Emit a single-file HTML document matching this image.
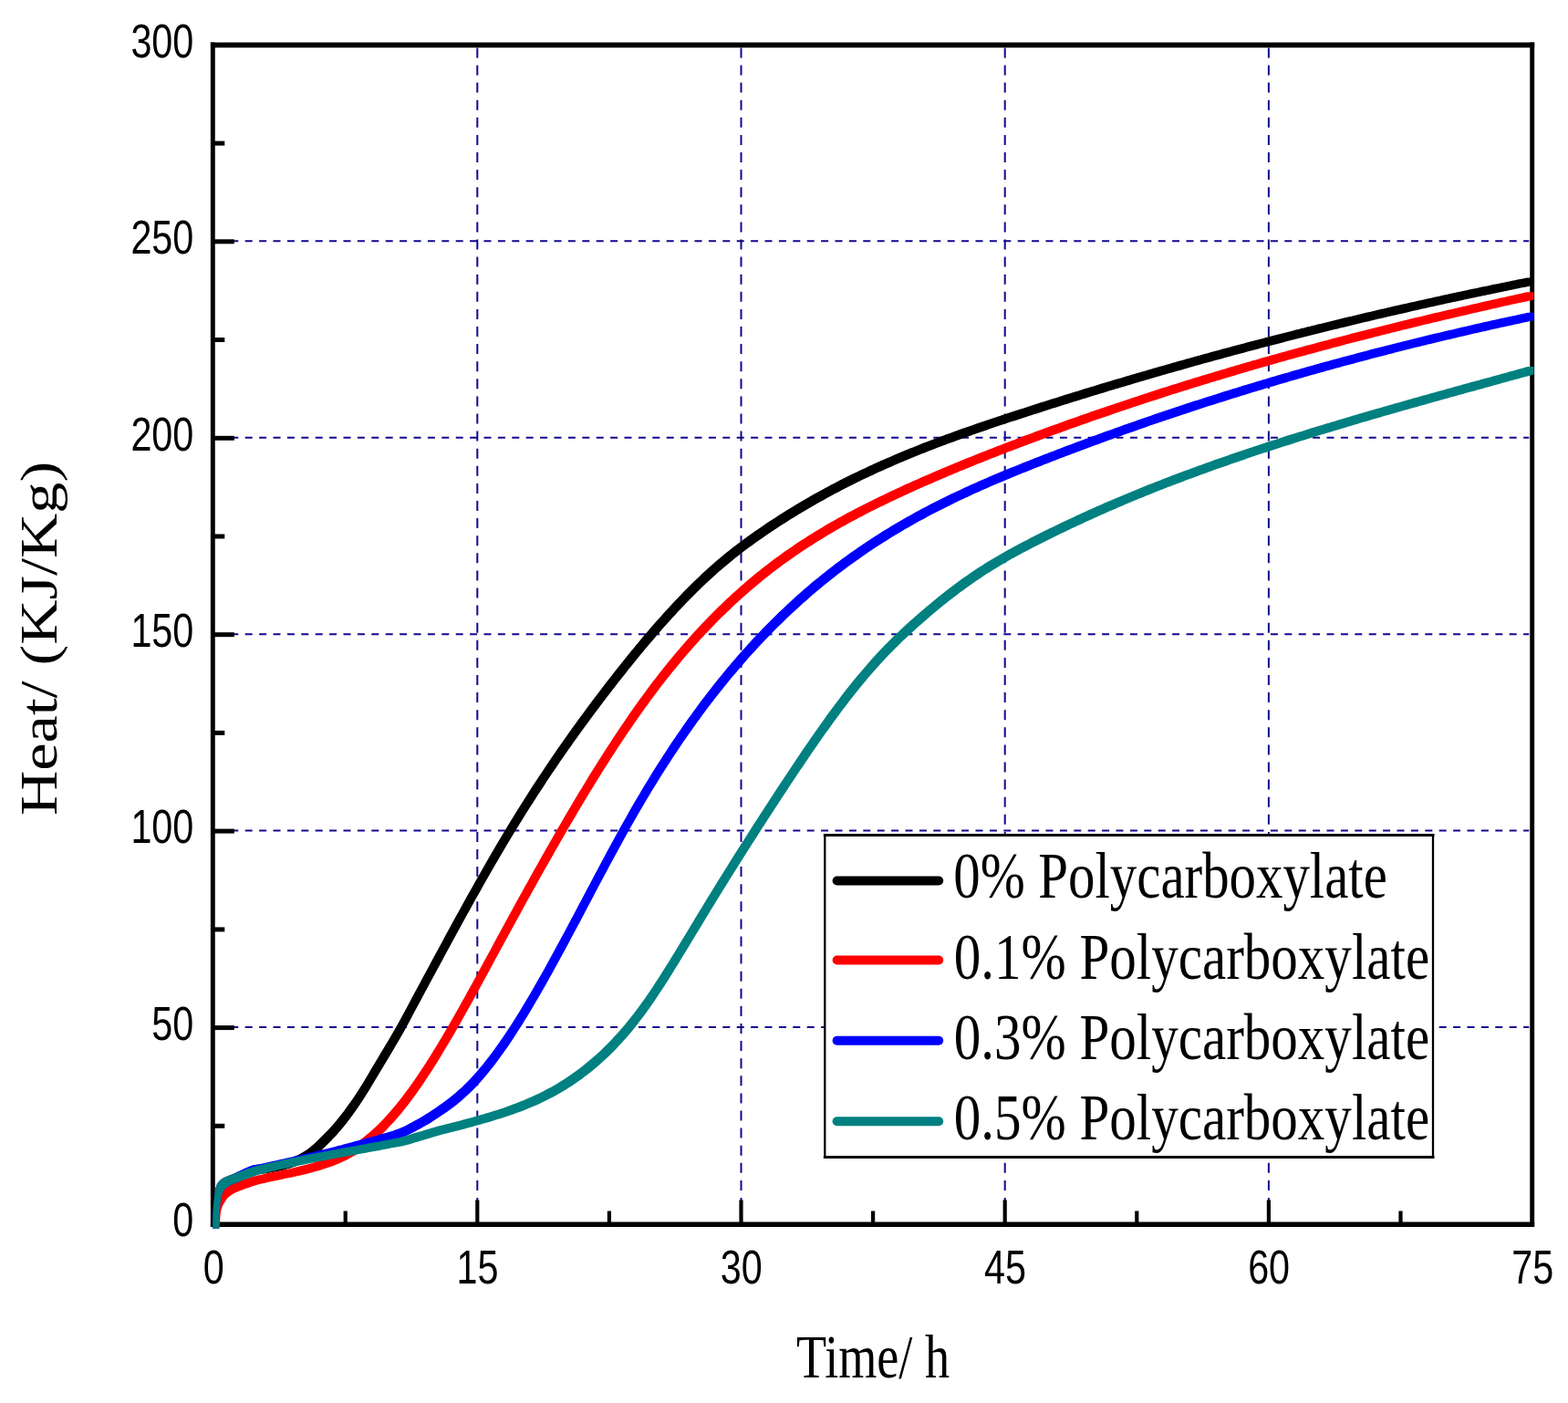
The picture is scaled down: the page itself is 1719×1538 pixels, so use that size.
<!DOCTYPE html>
<html lang="en"><head><meta charset="utf-8"><title>Heat vs Time</title>
<style>html,body{margin:0;padding:0;background:#fff}body{width:1719px;height:1538px;overflow:hidden}svg{display:block}.s{font-family:"Liberation Serif","DejaVu Serif",serif;fill:#000}.a{font-family:"Liberation Sans","DejaVu Sans",sans-serif;fill:#000}</style></head><body>
<svg xmlns="http://www.w3.org/2000/svg" width="1719" height="1538" viewBox="0 0 1719 1538">
<rect x="0" y="0" width="1719" height="1538" fill="#fff"/>
<g stroke="#12088c" stroke-width="2" fill="none">
<line x1="253.3" y1="1126.1" x2="1676.3" y2="1126.1" stroke-dasharray="8 7.4" stroke-dashoffset="0.0"/>
<line x1="253.3" y1="910.6" x2="1676.3" y2="910.6" stroke-dasharray="8 7.4" stroke-dashoffset="0.0"/>
<line x1="253.3" y1="695.2" x2="1676.3" y2="695.2" stroke-dasharray="8 7.4" stroke-dashoffset="0.0"/>
<line x1="253.3" y1="479.8" x2="1676.3" y2="479.8" stroke-dasharray="8 7.4" stroke-dashoffset="0.0"/>
<line x1="253.3" y1="264.3" x2="1676.3" y2="264.3" stroke-dasharray="8 7.4" stroke-dashoffset="0.0"/>
<line x1="523.3" y1="52.4" x2="523.3" y2="1339.0" stroke-dasharray="11 8.1" stroke-dashoffset="0.0"/>
<line x1="812.5" y1="52.4" x2="812.5" y2="1339.0" stroke-dasharray="11 8.1" stroke-dashoffset="0.0"/>
<line x1="1101.7" y1="52.4" x2="1101.7" y2="1339.0" stroke-dasharray="11 8.1" stroke-dashoffset="0.0"/>
<line x1="1390.9" y1="52.4" x2="1390.9" y2="1339.0" stroke-dasharray="11 8.1" stroke-dashoffset="0.0"/>
</g>
<g stroke="#000" fill="none" stroke-linecap="butt">
<line x1="233.3" y1="46.6" x2="233.3" y2="1345.1" stroke-width="4.9"/>
<line x1="1679.7" y1="46.6" x2="1679.7" y2="1345.1" stroke-width="4.9"/>
<line x1="230.9" y1="49.4" x2="1682.2" y2="49.4" stroke-width="5.6"/>
<line x1="230.9" y1="1342.3" x2="1682.2" y2="1342.3" stroke-width="5.6"/>
<line x1="233.3" y1="1126.6" x2="256.8" y2="1126.6" stroke-width="5"/>
<line x1="233.3" y1="911.1" x2="256.8" y2="911.1" stroke-width="5"/>
<line x1="233.3" y1="695.7" x2="256.8" y2="695.7" stroke-width="5"/>
<line x1="233.3" y1="480.3" x2="256.8" y2="480.3" stroke-width="5"/>
<line x1="233.3" y1="264.8" x2="256.8" y2="264.8" stroke-width="5"/>
<line x1="233.3" y1="1234.3" x2="246.3" y2="1234.3" stroke-width="5"/>
<line x1="233.3" y1="1018.9" x2="246.3" y2="1018.9" stroke-width="5"/>
<line x1="233.3" y1="803.4" x2="246.3" y2="803.4" stroke-width="5"/>
<line x1="233.3" y1="588.0" x2="246.3" y2="588.0" stroke-width="5"/>
<line x1="233.3" y1="372.5" x2="246.3" y2="372.5" stroke-width="5"/>
<line x1="233.3" y1="157.1" x2="246.3" y2="157.1" stroke-width="5"/>
<line x1="523.3" y1="1342.0" x2="523.3" y2="1315.5" stroke-width="4.2"/>
<line x1="812.5" y1="1342.0" x2="812.5" y2="1315.5" stroke-width="4.2"/>
<line x1="1101.7" y1="1342.0" x2="1101.7" y2="1315.5" stroke-width="4.2"/>
<line x1="1390.9" y1="1342.0" x2="1390.9" y2="1315.5" stroke-width="4.2"/>
<line x1="378.7" y1="1342.0" x2="378.7" y2="1327.5" stroke-width="4.2"/>
<line x1="667.9" y1="1342.0" x2="667.9" y2="1327.5" stroke-width="4.2"/>
<line x1="957.1" y1="1342.0" x2="957.1" y2="1327.5" stroke-width="4.2"/>
<line x1="1246.3" y1="1342.0" x2="1246.3" y2="1327.5" stroke-width="4.2"/>
<line x1="1535.5" y1="1342.0" x2="1535.5" y2="1327.5" stroke-width="4.2"/>
</g>
<g stroke="none">
<path fill="#000000" d="M233.3,1338.4 233.3,1337.4 233.3,1336.4 233.3,1335.4 233.3,1334.4 233.4,1333.4 233.4,1332.4 233.4,1331.5 233.5,1330.5 233.5,1329.5 233.5,1328.6 233.6,1327.6 233.6,1326.7 233.7,1325.7 233.8,1324.8 233.8,1323.8 233.9,1322.9 234.0,1321.9 234.0,1321.0 234.1,1320.0 234.2,1319.1 234.3,1318.1 234.4,1317.2 234.5,1316.2 234.6,1315.3 234.6,1314.3 234.7,1313.3 234.8,1312.4 235.0,1311.4 235.1,1310.4 235.2,1309.5 235.3,1308.5 235.4,1307.6 235.6,1306.6 235.7,1305.7 235.9,1304.8 236.1,1303.9 236.3,1303.1 236.5,1302.2 236.7,1301.4 237.0,1300.7 237.3,1299.9 237.6,1299.2 237.9,1298.5 238.2,1297.8 238.6,1297.2 239.0,1296.5 239.5,1295.9 240.0,1295.4 240.5,1294.8 241.0,1294.3 241.6,1293.8 242.2,1293.3 242.8,1292.8 243.4,1292.4 244.1,1292.0 244.8,1291.6 245.4,1291.2 246.1,1290.9 246.8,1290.5 247.4,1290.2 248.1,1289.9 248.8,1289.7 249.5,1289.4 250.2,1289.1 251.0,1288.8 251.8,1288.5 252.7,1288.2 253.6,1287.8 254.5,1287.5 255.6,1287.0 256.6,1286.6 257.8,1286.1 258.9,1285.6 260.1,1285.1 261.4,1284.6 262.6,1284.0 263.9,1283.5 265.2,1283.0 266.5,1282.4 267.7,1281.9 269.0,1281.4 270.2,1281.0 271.4,1280.5 272.5,1280.1 273.6,1279.8 274.7,1279.5 275.7,1279.2 276.6,1279.0 277.5,1278.8 278.3,1278.7 279.1,1278.5 279.9,1278.5 280.7,1278.4 281.4,1278.3 282.2,1278.2 282.9,1278.2 283.7,1278.1 284.5,1278.0 285.3,1277.9 286.1,1277.8 286.9,1277.7 287.7,1277.5 288.5,1277.4 289.4,1277.2 290.2,1277.1 291.0,1276.9 291.9,1276.8 292.7,1276.6 293.5,1276.4 294.4,1276.3 295.2,1276.1 296.0,1276.0 296.8,1275.8 297.6,1275.6 298.5,1275.5 299.3,1275.3 300.1,1275.1 300.9,1274.9 301.7,1274.8 304.7,1274.0 307.7,1273.2 310.7,1272.3 313.7,1271.3 316.7,1270.3 319.7,1269.1 322.7,1267.8 325.7,1266.4 328.7,1264.9 331.7,1263.3 334.7,1261.5 337.7,1259.4 340.7,1257.0 343.7,1254.5 346.7,1251.7 349.7,1248.8 352.7,1245.8 355.7,1242.8 358.7,1239.7 361.7,1236.5 364.7,1233.2 367.7,1229.7 370.7,1226.1 373.7,1222.3 376.7,1218.4 379.7,1214.3 382.7,1210.1 385.7,1205.9 388.7,1201.4 391.7,1196.9 394.7,1192.2 397.7,1187.4 400.7,1182.4 403.7,1177.4 406.7,1172.3 409.7,1167.3 412.7,1162.3 415.7,1157.3 418.7,1152.3 421.7,1147.3 424.7,1142.3 427.7,1137.2 430.7,1132.0 433.7,1126.8 436.7,1121.5 439.7,1116.0 442.7,1110.5 445.7,1104.9 448.7,1099.2 451.7,1093.6 454.7,1088.0 457.7,1082.4 460.7,1076.9 463.7,1071.3 466.7,1065.7 469.7,1060.2 472.7,1054.6 475.7,1049.0 478.7,1043.5 481.7,1037.9 484.7,1032.4 487.7,1026.8 490.7,1021.3 493.7,1015.8 496.7,1010.3 499.7,1004.8 502.7,999.4 505.7,993.9 508.7,988.5 511.7,983.1 514.7,977.7 517.7,972.4 520.7,967.0 523.7,961.7 526.7,956.4 529.7,951.2 532.7,945.9 535.7,940.7 538.7,935.6 541.7,930.4 544.7,925.3 547.7,920.2 550.7,915.2 553.7,910.2 556.7,905.2 559.7,900.3 562.7,895.4 565.7,890.5 568.7,885.7 571.7,880.9 574.7,876.2 577.7,871.5 580.7,866.8 583.7,862.1 586.7,857.5 589.7,853.0 592.7,848.4 595.7,843.9 598.7,839.4 601.7,835.0 604.7,830.6 607.7,826.2 610.7,821.8 613.7,817.5 616.7,813.2 619.7,809.0 622.7,804.7 625.7,800.5 628.7,796.3 631.7,792.2 634.7,788.1 637.7,784.0 640.7,779.9 643.7,775.8 646.7,771.8 649.7,767.8 652.7,763.8 655.7,759.9 658.7,755.9 661.7,752.0 664.7,748.1 667.7,744.3 670.7,740.4 673.7,736.6 676.7,732.8 679.7,729.0 682.7,725.2 685.7,721.5 688.7,717.8 691.7,714.1 694.7,710.4 697.7,706.8 700.7,703.2 703.7,699.6 706.7,696.1 709.7,692.5 712.7,689.0 715.7,685.6 718.7,682.1 721.7,678.7 724.7,675.4 727.7,672.0 730.7,668.7 733.7,665.5 736.7,662.2 739.7,659.0 742.7,655.9 745.7,652.7 748.7,649.6 751.7,646.6 754.7,643.6 757.7,640.6 760.7,637.6 763.7,634.7 766.7,631.9 769.7,629.1 772.7,626.3 775.7,623.5 778.7,620.8 781.7,618.2 784.7,615.6 787.7,613.0 790.7,610.5 793.7,608.0 796.7,605.6 799.7,603.2 802.7,600.8 805.7,598.5 808.7,596.2 811.7,593.9 814.7,591.7 817.7,589.5 820.7,587.3 823.7,585.2 826.7,583.1 829.7,581.0 832.7,578.9 835.7,576.9 838.7,574.8 841.7,572.8 844.7,570.8 847.7,568.9 850.7,566.9 853.7,565.0 856.7,563.1 859.7,561.2 862.7,559.3 865.7,557.5 868.7,555.7 871.7,553.8 874.7,552.0 877.7,550.3 880.7,548.5 883.7,546.8 886.7,545.0 889.7,543.3 892.7,541.6 895.7,540.0 898.7,538.3 901.7,536.7 904.7,535.0 907.7,533.4 910.7,531.8 913.7,530.3 916.7,528.7 919.7,527.1 922.7,525.6 925.7,524.1 928.7,522.6 931.7,521.1 934.7,519.6 937.7,518.2 940.7,516.7 943.7,515.3 946.7,513.9 949.7,512.5 952.7,511.1 955.7,509.7 958.7,508.3 961.7,507.0 964.7,505.6 967.7,504.3 970.7,503.0 973.7,501.7 976.7,500.4 979.7,499.1 982.7,497.8 985.7,496.5 988.7,495.3 991.7,494.0 994.7,492.8 997.7,491.6 1000.7,490.4 1003.7,489.2 1006.7,488.0 1009.7,486.8 1012.7,485.6 1015.7,484.5 1018.7,483.3 1021.7,482.2 1024.7,481.0 1027.7,479.9 1030.7,478.8 1033.7,477.7 1036.7,476.6 1039.7,475.5 1042.7,474.4 1045.7,473.3 1048.7,472.2 1051.7,471.1 1054.7,470.1 1057.7,469.0 1060.7,467.9 1063.7,466.9 1066.7,465.9 1069.7,464.8 1072.7,463.8 1075.7,462.8 1078.7,461.7 1081.7,460.7 1084.7,459.7 1087.7,458.7 1090.7,457.7 1093.7,456.7 1096.7,455.7 1099.7,454.7 1102.7,453.7 1105.7,452.8 1108.7,451.8 1111.7,450.8 1114.7,449.8 1117.7,448.8 1120.7,447.9 1123.7,446.9 1126.7,445.9 1129.7,445.0 1132.7,444.0 1135.7,443.0 1138.7,442.1 1141.7,441.1 1144.7,440.2 1147.7,439.2 1150.7,438.3 1153.7,437.3 1156.7,436.4 1159.7,435.4 1162.7,434.5 1165.7,433.6 1168.7,432.6 1171.7,431.7 1174.7,430.8 1177.7,429.8 1180.7,428.9 1183.7,428.0 1186.7,427.1 1189.7,426.1 1192.7,425.2 1195.7,424.3 1198.7,423.4 1201.7,422.5 1204.7,421.6 1207.7,420.6 1210.7,419.7 1213.7,418.8 1216.7,417.9 1219.7,417.0 1222.7,416.1 1225.7,415.3 1228.7,414.4 1231.7,413.5 1234.7,412.6 1237.7,411.7 1240.7,410.8 1243.7,409.9 1246.7,409.0 1249.7,408.2 1252.7,407.3 1255.7,406.4 1258.7,405.5 1261.7,404.7 1264.7,403.8 1267.7,402.9 1270.7,402.1 1273.7,401.2 1276.7,400.4 1279.7,399.5 1282.7,398.7 1285.7,397.8 1288.7,397.0 1291.7,396.1 1294.7,395.3 1297.7,394.4 1300.7,393.6 1303.7,392.7 1306.7,391.9 1309.7,391.1 1312.7,390.2 1315.7,389.4 1318.7,388.6 1321.7,387.8 1324.7,386.9 1327.7,386.1 1330.7,385.3 1333.7,384.5 1336.7,383.7 1339.7,382.8 1342.7,382.0 1345.7,381.2 1348.7,380.4 1351.7,379.6 1354.7,378.8 1357.7,378.0 1360.7,377.2 1363.7,376.4 1366.7,375.6 1369.7,374.8 1372.7,374.0 1375.7,373.2 1378.7,372.4 1381.7,371.7 1384.7,370.9 1387.7,370.1 1390.7,369.3 1393.7,368.5 1396.7,367.8 1399.7,367.0 1402.7,366.2 1405.7,365.4 1408.7,364.7 1411.7,363.9 1414.7,363.2 1417.7,362.4 1420.7,361.6 1423.7,360.9 1426.7,360.1 1429.7,359.4 1432.7,358.6 1435.7,357.9 1438.7,357.1 1441.7,356.4 1444.7,355.6 1447.7,354.9 1450.7,354.2 1453.7,353.4 1456.7,352.7 1459.7,352.0 1462.7,351.2 1465.7,350.5 1468.7,349.8 1471.7,349.0 1474.7,348.3 1477.7,347.6 1480.7,346.9 1483.7,346.2 1486.7,345.4 1489.7,344.7 1492.7,344.0 1495.7,343.3 1498.7,342.6 1501.7,341.9 1504.7,341.2 1507.7,340.5 1510.7,339.8 1513.7,339.1 1516.7,338.4 1519.7,337.7 1522.7,337.0 1525.7,336.3 1528.7,335.6 1531.7,335.0 1534.7,334.3 1537.7,333.6 1540.7,332.9 1543.7,332.2 1546.7,331.6 1549.7,330.9 1552.7,330.2 1555.7,329.5 1558.7,328.9 1561.7,328.2 1564.7,327.5 1567.7,326.9 1570.7,326.2 1573.7,325.5 1576.7,324.9 1579.7,324.2 1582.7,323.6 1585.7,322.9 1588.7,322.3 1591.7,321.6 1594.7,321.0 1597.7,320.3 1600.7,319.7 1603.7,319.1 1606.7,318.4 1609.7,317.8 1612.7,317.1 1615.7,316.5 1618.7,315.9 1621.7,315.3 1624.7,314.6 1627.7,314.0 1630.7,313.4 1633.7,312.8 1636.7,312.1 1639.7,311.5 1642.7,310.9 1645.7,310.3 1648.7,309.7 1651.7,309.1 1654.7,308.4 1657.7,307.8 1660.7,307.2 1663.7,306.6 1666.7,306.0 1669.7,305.4 1672.7,304.8 1674.9,304.4 L1681.5,304.4 1681.5,312.8 1679.3,313.2 1676.3,313.8 1673.3,314.4 1670.3,315.0 1667.3,315.6 1664.3,316.2 1661.3,316.8 1658.3,317.5 1655.3,318.1 1652.3,318.7 1649.3,319.3 1646.3,319.9 1643.3,320.5 1640.3,321.2 1637.3,321.8 1634.3,322.4 1631.3,323.0 1628.3,323.7 1625.3,324.3 1622.3,324.9 1619.3,325.5 1616.3,326.2 1613.3,326.8 1610.3,327.5 1607.3,328.1 1604.3,328.7 1601.3,329.4 1598.3,330.0 1595.3,330.7 1592.3,331.3 1589.3,332.0 1586.3,332.6 1583.3,333.3 1580.3,333.9 1577.3,334.6 1574.3,335.3 1571.3,335.9 1568.3,336.6 1565.3,337.3 1562.3,337.9 1559.3,338.6 1556.3,339.3 1553.3,340.0 1550.3,340.6 1547.3,341.3 1544.3,342.0 1541.3,342.7 1538.3,343.4 1535.3,344.0 1532.3,344.7 1529.3,345.4 1526.3,346.1 1523.3,346.8 1520.3,347.5 1517.3,348.2 1514.3,348.9 1511.3,349.6 1508.3,350.3 1505.3,351.0 1502.3,351.7 1499.3,352.4 1496.3,353.1 1493.3,353.8 1490.3,354.6 1487.3,355.3 1484.3,356.0 1481.3,356.7 1478.3,357.4 1475.3,358.2 1472.3,358.9 1469.3,359.6 1466.3,360.4 1463.3,361.1 1460.3,361.8 1457.3,362.6 1454.3,363.3 1451.3,364.0 1448.3,364.8 1445.3,365.5 1442.3,366.3 1439.3,367.0 1436.3,367.8 1433.3,368.5 1430.3,369.3 1427.3,370.0 1424.3,370.8 1421.3,371.6 1418.3,372.3 1415.3,373.1 1412.3,373.8 1409.3,374.6 1406.3,375.4 1403.3,376.2 1400.3,376.9 1397.3,377.7 1394.3,378.5 1391.3,379.3 1388.3,380.1 1385.3,380.8 1382.3,381.6 1379.3,382.4 1376.3,383.2 1373.3,384.0 1370.3,384.8 1367.3,385.6 1364.3,386.4 1361.3,387.2 1358.3,388.0 1355.3,388.8 1352.3,389.6 1349.3,390.4 1346.3,391.2 1343.3,392.1 1340.3,392.9 1337.3,393.7 1334.3,394.5 1331.3,395.3 1328.3,396.2 1325.3,397.0 1322.3,397.8 1319.3,398.6 1316.3,399.5 1313.3,400.3 1310.3,401.1 1307.3,402.0 1304.3,402.8 1301.3,403.7 1298.3,404.5 1295.3,405.4 1292.3,406.2 1289.3,407.1 1286.3,407.9 1283.3,408.8 1280.3,409.6 1277.3,410.5 1274.3,411.3 1271.3,412.2 1268.3,413.1 1265.3,413.9 1262.3,414.8 1259.3,415.7 1256.3,416.6 1253.3,417.4 1250.3,418.3 1247.3,419.2 1244.3,420.1 1241.3,421.0 1238.3,421.9 1235.3,422.8 1232.3,423.7 1229.3,424.5 1226.3,425.4 1223.3,426.3 1220.3,427.2 1217.3,428.1 1214.3,429.0 1211.3,430.0 1208.3,430.9 1205.3,431.8 1202.3,432.7 1199.3,433.6 1196.3,434.5 1193.3,435.5 1190.3,436.4 1187.3,437.3 1184.3,438.2 1181.3,439.2 1178.3,440.1 1175.3,441.0 1172.3,442.0 1169.3,442.9 1166.3,443.8 1163.3,444.8 1160.3,445.7 1157.3,446.7 1154.3,447.6 1151.3,448.6 1148.3,449.5 1145.3,450.5 1142.3,451.4 1139.3,452.4 1136.3,453.4 1133.3,454.3 1130.3,455.3 1127.3,456.3 1124.3,457.2 1121.3,458.2 1118.3,459.2 1115.3,460.2 1112.3,461.2 1109.3,462.1 1106.3,463.1 1103.3,464.1 1100.3,465.1 1097.3,466.1 1094.3,467.1 1091.3,468.1 1088.3,469.1 1085.3,470.1 1082.3,471.2 1079.3,472.2 1076.3,473.2 1073.3,474.3 1070.3,475.3 1067.3,476.3 1064.3,477.4 1061.3,478.5 1058.3,479.5 1055.3,480.6 1052.3,481.7 1049.3,482.8 1046.3,483.9 1043.3,485.0 1040.3,486.1 1037.3,487.2 1034.3,488.3 1031.3,489.4 1028.3,490.6 1025.3,491.7 1022.3,492.9 1019.3,494.0 1016.3,495.2 1013.3,496.4 1010.3,497.6 1007.3,498.8 1004.3,500.0 1001.3,501.2 998.3,502.4 995.3,503.7 992.3,504.9 989.3,506.2 986.3,507.5 983.3,508.8 980.3,510.1 977.3,511.4 974.3,512.7 971.3,514.0 968.3,515.4 965.3,516.7 962.3,518.1 959.3,519.5 956.3,520.9 953.3,522.3 950.3,523.7 947.3,525.1 944.3,526.6 941.3,528.0 938.3,529.5 935.3,531.0 932.3,532.5 929.3,534.0 926.3,535.5 923.3,537.1 920.3,538.7 917.3,540.2 914.3,541.8 911.3,543.4 908.3,545.1 905.3,546.7 902.3,548.4 899.3,550.0 896.3,551.7 893.3,553.4 890.3,555.2 887.3,556.9 884.3,558.7 881.3,560.4 878.3,562.2 875.3,564.1 872.3,565.9 869.3,567.7 866.3,569.6 863.3,571.5 860.3,573.4 857.3,575.3 854.3,577.3 851.3,579.2 848.3,581.2 845.3,583.2 842.3,585.3 839.3,587.3 836.3,589.4 833.3,591.5 830.3,593.6 827.3,595.7 824.3,597.9 821.3,600.1 818.3,602.3 815.3,604.6 812.3,606.9 809.3,609.2 806.3,611.6 803.3,614.0 800.3,616.4 797.3,618.9 794.3,621.4 791.3,624.0 788.3,626.6 785.3,629.2 782.3,631.9 779.3,634.7 776.3,637.5 773.3,640.3 770.3,643.1 767.3,646.0 764.3,649.0 761.3,652.0 758.3,655.0 755.3,658.0 752.3,661.1 749.3,664.3 746.3,667.4 743.3,670.6 740.3,673.9 737.3,677.1 734.3,680.4 731.3,683.8 728.3,687.1 725.3,690.5 722.3,694.0 719.3,697.4 716.3,700.9 713.3,704.5 710.3,708.0 707.3,711.6 704.3,715.2 701.3,718.8 698.3,722.5 695.3,726.2 692.3,729.9 689.3,733.6 686.3,737.4 683.3,741.2 680.3,745.0 677.3,748.8 674.3,752.7 671.3,756.5 668.3,760.4 665.3,764.3 662.3,768.3 659.3,772.2 656.3,776.2 653.3,780.2 650.3,784.2 647.3,788.3 644.3,792.4 641.3,796.5 638.3,800.6 635.3,804.7 632.3,808.9 629.3,813.1 626.3,817.4 623.3,821.6 620.3,825.9 617.3,830.2 614.3,834.6 611.3,839.0 608.3,843.4 605.3,847.8 602.3,852.3 599.3,856.8 596.3,861.4 593.3,865.9 590.3,870.5 587.3,875.2 584.3,879.9 581.3,884.6 578.3,889.3 575.3,894.1 572.3,898.9 569.3,903.8 566.3,908.7 563.3,913.6 560.3,918.6 557.3,923.6 554.3,928.6 551.3,933.7 548.3,938.8 545.3,944.0 542.3,949.1 539.3,954.3 536.3,959.6 533.3,964.8 530.3,970.1 527.3,975.4 524.3,980.8 521.3,986.1 518.3,991.5 515.3,996.9 512.3,1002.3 509.3,1007.8 506.3,1013.2 503.3,1018.7 500.3,1024.2 497.3,1029.7 494.3,1035.2 491.3,1040.8 488.3,1046.3 485.3,1051.9 482.3,1057.4 479.3,1063.0 476.3,1068.6 473.3,1074.1 470.3,1079.7 467.3,1085.3 464.3,1090.8 461.3,1096.4 458.3,1102.0 455.3,1107.6 452.3,1113.3 449.3,1118.9 446.3,1124.4 443.3,1129.9 440.3,1135.2 437.3,1140.4 434.3,1145.6 431.3,1150.7 428.3,1155.7 425.3,1160.7 422.3,1165.7 419.3,1170.7 416.3,1175.7 413.3,1180.7 410.3,1185.8 407.3,1190.8 404.3,1195.8 401.3,1200.6 398.3,1205.3 395.3,1209.8 392.3,1214.3 389.3,1218.5 386.3,1222.7 383.3,1226.8 380.3,1230.7 377.3,1234.5 374.3,1238.1 371.3,1241.6 368.3,1244.9 365.3,1248.1 362.3,1251.2 359.3,1254.2 356.3,1257.2 353.3,1260.1 350.3,1262.9 347.3,1265.4 344.3,1267.8 341.3,1269.9 338.3,1271.7 335.3,1273.3 332.3,1274.8 329.3,1276.2 326.3,1277.5 323.3,1278.7 320.3,1279.7 317.3,1280.7 314.3,1281.6 311.3,1282.4 308.3,1283.2 307.5,1283.3 306.7,1283.5 305.9,1283.7 305.1,1283.9 304.2,1284.0 303.4,1284.2 302.6,1284.4 301.8,1284.5 301.0,1284.7 300.1,1284.8 299.3,1285.0 298.5,1285.2 297.6,1285.3 296.8,1285.5 296.0,1285.6 295.1,1285.8 294.3,1285.9 293.5,1286.1 292.7,1286.2 291.9,1286.3 291.1,1286.4 290.3,1286.5 289.5,1286.6 288.8,1286.6 288.0,1286.7 287.3,1286.8 286.5,1286.9 285.7,1286.9 284.9,1287.1 284.1,1287.2 283.2,1287.4 282.3,1287.6 281.3,1287.9 280.2,1288.2 279.1,1288.5 278.0,1288.9 276.8,1289.4 275.6,1289.8 274.3,1290.3 273.1,1290.8 271.8,1291.4 270.5,1291.9 269.2,1292.4 268.0,1293.0 266.7,1293.5 265.5,1294.0 264.4,1294.5 263.2,1295.0 262.2,1295.4 261.1,1295.9 260.2,1296.2 259.3,1296.6 258.4,1296.9 257.6,1297.2 256.8,1297.5 256.1,1297.8 255.4,1298.1 254.7,1298.3 254.0,1298.6 253.4,1298.9 252.7,1299.3 252.0,1299.6 251.4,1300.0 250.7,1300.4 250.0,1300.8 249.4,1301.2 248.8,1301.7 248.2,1302.2 247.6,1302.7 247.1,1303.2 246.6,1303.8 246.1,1304.3 245.6,1304.9 245.2,1305.6 244.8,1306.2 244.5,1306.9 244.2,1307.6 243.9,1308.3 243.6,1309.1 243.3,1309.8 243.1,1310.6 242.9,1311.5 242.7,1312.3 242.5,1313.2 242.3,1314.1 242.2,1315.0 242.0,1316.0 241.9,1316.9 241.8,1317.9 241.7,1318.8 241.6,1319.8 241.4,1320.8 241.3,1321.7 241.2,1322.7 241.2,1323.7 241.1,1324.6 241.0,1325.6 240.9,1326.5 240.8,1327.5 240.7,1328.4 240.6,1329.4 240.6,1330.3 240.5,1331.3 240.4,1332.2 240.4,1333.2 240.3,1334.1 240.2,1335.1 240.2,1336.0 240.1,1337.0 240.1,1337.9 240.1,1338.9 240.0,1339.9 240.0,1340.8 240.0,1341.8 239.9,1342.8 239.9,1343.8 239.9,1344.8 239.9,1345.8 239.9,1346.8 L233.3,1346.8 Z"/>
<path fill="#ff0000" d="M233.9,1338.4 234.0,1337.8 234.1,1337.2 234.1,1336.5 234.2,1335.8 234.3,1335.1 234.3,1334.3 234.4,1333.5 234.4,1332.7 234.4,1331.9 234.5,1331.0 234.5,1330.1 234.6,1329.3 234.6,1328.4 234.7,1327.5 234.7,1326.6 234.8,1325.7 234.9,1324.9 234.9,1324.0 235.0,1323.2 235.1,1322.3 235.2,1321.5 235.3,1320.8 235.4,1320.0 235.6,1319.3 235.7,1318.6 235.9,1318.0 236.0,1317.3 236.2,1316.7 236.4,1316.1 236.6,1315.5 236.9,1314.9 237.1,1314.3 237.4,1313.8 237.6,1313.2 237.9,1312.7 238.2,1312.1 238.5,1311.6 238.8,1311.1 239.2,1310.5 239.5,1310.0 239.8,1309.4 240.1,1308.9 240.5,1308.3 240.8,1307.8 241.2,1307.2 241.6,1306.7 242.0,1306.2 242.4,1305.6 242.8,1305.1 243.3,1304.7 243.8,1304.2 244.3,1303.7 244.8,1303.3 245.3,1302.9 245.8,1302.5 246.4,1302.1 246.9,1301.7 247.4,1301.3 247.9,1301.0 248.5,1300.7 249.0,1300.3 249.6,1300.0 250.2,1299.7 250.8,1299.4 251.5,1299.1 252.2,1298.7 253.1,1298.4 253.9,1298.0 254.9,1297.6 256.0,1297.2 257.1,1296.7 258.3,1296.3 259.5,1295.8 260.7,1295.4 262.0,1294.9 263.3,1294.4 264.6,1293.9 265.9,1293.5 267.3,1293.0 268.5,1292.6 269.8,1292.2 271.0,1291.7 272.2,1291.4 273.4,1291.0 274.5,1290.7 275.5,1290.4 276.4,1290.1 277.3,1289.9 278.1,1289.6 278.9,1289.4 279.7,1289.3 280.5,1289.1 281.2,1288.9 281.9,1288.8 282.6,1288.6 283.3,1288.5 284.1,1288.3 284.8,1288.1 285.6,1288.0 286.4,1287.8 287.2,1287.6 288.0,1287.4 288.8,1287.2 289.6,1287.1 290.4,1286.9 291.3,1286.7 292.1,1286.5 292.9,1286.3 293.7,1286.1 294.5,1286.0 295.3,1285.8 296.1,1285.6 296.9,1285.5 297.7,1285.3 298.5,1285.1 299.3,1285.0 300.1,1284.8 300.9,1284.6 301.7,1284.5 304.7,1283.9 307.7,1283.2 310.7,1282.6 313.7,1282.0 316.7,1281.4 319.7,1280.7 322.7,1280.0 325.7,1279.3 328.7,1278.6 331.7,1277.8 334.7,1277.0 337.7,1276.2 340.7,1275.4 343.7,1274.5 346.7,1273.6 349.7,1272.7 352.7,1271.7 355.7,1270.7 358.7,1269.6 361.7,1268.4 364.7,1267.1 367.7,1265.8 370.7,1264.4 373.7,1263.0 376.7,1261.4 379.7,1259.7 382.7,1258.0 385.7,1256.1 388.7,1254.1 391.7,1252.0 394.7,1249.8 397.7,1247.5 400.7,1245.1 403.7,1242.6 406.7,1240.0 409.7,1237.2 412.7,1234.4 415.7,1231.5 418.7,1228.4 421.7,1225.2 424.7,1222.0 427.7,1218.6 430.7,1215.1 433.7,1211.5 436.7,1207.8 439.7,1204.0 442.7,1200.1 445.7,1196.1 448.7,1192.0 451.7,1187.8 454.7,1183.5 457.7,1179.1 460.7,1174.6 463.7,1170.1 466.7,1165.5 469.7,1160.8 472.7,1156.0 475.7,1151.1 478.7,1146.2 481.7,1141.2 484.7,1136.2 487.7,1131.1 490.7,1126.0 493.7,1120.8 496.7,1115.5 499.7,1110.3 502.7,1104.9 505.7,1099.6 508.7,1094.2 511.7,1088.8 514.7,1083.3 517.7,1077.9 520.7,1072.4 523.7,1066.9 526.7,1061.3 529.7,1055.8 532.7,1050.3 535.7,1044.7 538.7,1039.2 541.7,1033.6 544.7,1028.1 547.7,1022.6 550.7,1017.0 553.7,1011.5 556.7,1006.0 559.7,1000.5 562.7,995.1 565.7,989.6 568.7,984.1 571.7,978.7 574.7,973.3 577.7,967.9 580.7,962.5 583.7,957.1 586.7,951.7 589.7,946.4 592.7,941.1 595.7,935.8 598.7,930.5 601.7,925.2 604.7,919.9 607.7,914.7 610.7,909.5 613.7,904.4 616.7,899.2 619.7,894.1 622.7,889.0 625.7,883.9 628.7,878.8 631.7,873.8 634.7,868.8 637.7,863.9 640.7,858.9 643.7,854.0 646.7,849.1 649.7,844.3 652.7,839.5 655.7,834.7 658.7,830.0 661.7,825.3 664.7,820.6 667.7,816.0 670.7,811.4 673.7,806.8 676.7,802.3 679.7,797.8 682.7,793.4 685.7,789.0 688.7,784.6 691.7,780.3 694.7,776.0 697.7,771.8 700.7,767.6 703.7,763.5 706.7,759.4 709.7,755.3 712.7,751.3 715.7,747.3 718.7,743.4 721.7,739.6 724.7,735.7 727.7,732.0 730.7,728.2 733.7,724.5 736.7,720.9 739.7,717.3 742.7,713.7 745.7,710.2 748.7,706.7 751.7,703.3 754.7,699.9 757.7,696.5 760.7,693.2 763.7,690.0 766.7,686.7 769.7,683.6 772.7,680.4 775.7,677.3 778.7,674.2 781.7,671.2 784.7,668.2 787.7,665.3 790.7,662.4 793.7,659.5 796.7,656.6 799.7,653.9 802.7,651.1 805.7,648.4 808.7,645.7 811.7,643.0 814.7,640.4 817.7,637.8 820.7,635.3 823.7,632.8 826.7,630.3 829.7,627.8 832.7,625.4 835.7,623.1 838.7,620.7 841.7,618.4 844.7,616.1 847.7,613.8 850.7,611.6 853.7,609.4 856.7,607.3 859.7,605.1 862.7,603.0 865.7,600.9 868.7,598.9 871.7,596.8 874.7,594.8 877.7,592.8 880.7,590.9 883.7,589.0 886.7,587.1 889.7,585.2 892.7,583.3 895.7,581.5 898.7,579.7 901.7,577.9 904.7,576.1 907.7,574.3 910.7,572.6 913.7,570.9 916.7,569.2 919.7,567.5 922.7,565.9 925.7,564.2 928.7,562.6 931.7,561.0 934.7,559.4 937.7,557.8 940.7,556.3 943.7,554.7 946.7,553.2 949.7,551.7 952.7,550.2 955.7,548.7 958.7,547.2 961.7,545.8 964.7,544.3 967.7,542.9 970.7,541.4 973.7,540.0 976.7,538.6 979.7,537.2 982.7,535.8 985.7,534.4 988.7,533.0 991.7,531.6 994.7,530.3 997.7,528.9 1000.7,527.6 1003.7,526.2 1006.7,524.9 1009.7,523.6 1012.7,522.3 1015.7,521.0 1018.7,519.7 1021.7,518.4 1024.7,517.1 1027.7,515.8 1030.7,514.5 1033.7,513.2 1036.7,512.0 1039.7,510.7 1042.7,509.5 1045.7,508.2 1048.7,507.0 1051.7,505.8 1054.7,504.5 1057.7,503.3 1060.7,502.1 1063.7,500.9 1066.7,499.7 1069.7,498.5 1072.7,497.3 1075.7,496.1 1078.7,494.9 1081.7,493.7 1084.7,492.6 1087.7,491.4 1090.7,490.2 1093.7,489.1 1096.7,487.9 1099.7,486.7 1102.7,485.6 1105.7,484.4 1108.7,483.3 1111.7,482.2 1114.7,481.0 1117.7,479.9 1120.7,478.8 1123.7,477.6 1126.7,476.5 1129.7,475.4 1132.7,474.3 1135.7,473.1 1138.7,472.0 1141.7,470.9 1144.7,469.8 1147.7,468.7 1150.7,467.6 1153.7,466.5 1156.7,465.5 1159.7,464.4 1162.7,463.3 1165.7,462.2 1168.7,461.1 1171.7,460.1 1174.7,459.0 1177.7,457.9 1180.7,456.9 1183.7,455.8 1186.7,454.8 1189.7,453.7 1192.7,452.7 1195.7,451.6 1198.7,450.6 1201.7,449.6 1204.7,448.5 1207.7,447.5 1210.7,446.5 1213.7,445.4 1216.7,444.4 1219.7,443.4 1222.7,442.4 1225.7,441.4 1228.7,440.4 1231.7,439.4 1234.7,438.4 1237.7,437.4 1240.7,436.4 1243.7,435.4 1246.7,434.4 1249.7,433.4 1252.7,432.4 1255.7,431.4 1258.7,430.5 1261.7,429.5 1264.7,428.5 1267.7,427.6 1270.7,426.6 1273.7,425.6 1276.7,424.7 1279.7,423.7 1282.7,422.8 1285.7,421.8 1288.7,420.9 1291.7,419.9 1294.7,419.0 1297.7,418.1 1300.7,417.1 1303.7,416.2 1306.7,415.3 1309.7,414.3 1312.7,413.4 1315.7,412.5 1318.7,411.6 1321.7,410.7 1324.7,409.8 1327.7,408.9 1330.7,408.0 1333.7,407.1 1336.7,406.2 1339.7,405.3 1342.7,404.4 1345.7,403.5 1348.7,402.6 1351.7,401.7 1354.7,400.8 1357.7,399.9 1360.7,399.1 1363.7,398.2 1366.7,397.3 1369.7,396.4 1372.7,395.6 1375.7,394.7 1378.7,393.9 1381.7,393.0 1384.7,392.1 1387.7,391.3 1390.7,390.4 1393.7,389.6 1396.7,388.8 1399.7,387.9 1402.7,387.1 1405.7,386.2 1408.7,385.4 1411.7,384.6 1414.7,383.7 1417.7,382.9 1420.7,382.1 1423.7,381.3 1426.7,380.4 1429.7,379.6 1432.7,378.8 1435.7,378.0 1438.7,377.2 1441.7,376.4 1444.7,375.6 1447.7,374.8 1450.7,374.0 1453.7,373.2 1456.7,372.4 1459.7,371.6 1462.7,370.8 1465.7,370.0 1468.7,369.2 1471.7,368.4 1474.7,367.7 1477.7,366.9 1480.7,366.1 1483.7,365.3 1486.7,364.6 1489.7,363.8 1492.7,363.0 1495.7,362.3 1498.7,361.5 1501.7,360.7 1504.7,360.0 1507.7,359.2 1510.7,358.5 1513.7,357.7 1516.7,357.0 1519.7,356.2 1522.7,355.5 1525.7,354.7 1528.7,354.0 1531.7,353.2 1534.7,352.5 1537.7,351.8 1540.7,351.0 1543.7,350.3 1546.7,349.6 1549.7,348.8 1552.7,348.1 1555.7,347.4 1558.7,346.7 1561.7,346.0 1564.7,345.2 1567.7,344.5 1570.7,343.8 1573.7,343.1 1576.7,342.4 1579.7,341.7 1582.7,341.0 1585.7,340.3 1588.7,339.6 1591.7,338.9 1594.7,338.2 1597.7,337.5 1600.7,336.8 1603.7,336.1 1606.7,335.4 1609.7,334.7 1612.7,334.0 1615.7,333.3 1618.7,332.7 1621.7,332.0 1624.7,331.3 1627.7,330.6 1630.7,329.9 1633.7,329.3 1636.7,328.6 1639.7,327.9 1642.7,327.2 1645.7,326.6 1648.7,325.9 1651.7,325.2 1654.7,324.6 1657.7,323.9 1660.7,323.3 1663.7,322.6 1666.7,322.0 1669.7,321.3 1672.7,320.6 1674.9,320.2 L1681.5,320.2 1681.5,328.6 1679.3,329.0 1676.3,329.7 1673.3,330.4 1670.3,331.0 1667.3,331.7 1664.3,332.3 1661.3,333.0 1658.3,333.6 1655.3,334.3 1652.3,335.0 1649.3,335.6 1646.3,336.3 1643.3,337.0 1640.3,337.7 1637.3,338.3 1634.3,339.0 1631.3,339.7 1628.3,340.4 1625.3,341.1 1622.3,341.7 1619.3,342.4 1616.3,343.1 1613.3,343.8 1610.3,344.5 1607.3,345.2 1604.3,345.9 1601.3,346.6 1598.3,347.3 1595.3,348.0 1592.3,348.7 1589.3,349.4 1586.3,350.1 1583.3,350.8 1580.3,351.5 1577.3,352.2 1574.3,352.9 1571.3,353.6 1568.3,354.4 1565.3,355.1 1562.3,355.8 1559.3,356.5 1556.3,357.2 1553.3,358.0 1550.3,358.7 1547.3,359.4 1544.3,360.2 1541.3,360.9 1538.3,361.6 1535.3,362.4 1532.3,363.1 1529.3,363.9 1526.3,364.6 1523.3,365.4 1520.3,366.1 1517.3,366.9 1514.3,367.6 1511.3,368.4 1508.3,369.1 1505.3,369.9 1502.3,370.7 1499.3,371.4 1496.3,372.2 1493.3,373.0 1490.3,373.7 1487.3,374.5 1484.3,375.3 1481.3,376.1 1478.3,376.8 1475.3,377.6 1472.3,378.4 1469.3,379.2 1466.3,380.0 1463.3,380.8 1460.3,381.6 1457.3,382.4 1454.3,383.2 1451.3,384.0 1448.3,384.8 1445.3,385.6 1442.3,386.4 1439.3,387.2 1436.3,388.0 1433.3,388.8 1430.3,389.7 1427.3,390.5 1424.3,391.3 1421.3,392.1 1418.3,393.0 1415.3,393.8 1412.3,394.6 1409.3,395.5 1406.3,396.3 1403.3,397.1 1400.3,398.0 1397.3,398.8 1394.3,399.7 1391.3,400.5 1388.3,401.4 1385.3,402.3 1382.3,403.1 1379.3,404.0 1376.3,404.8 1373.3,405.7 1370.3,406.6 1367.3,407.5 1364.3,408.3 1361.3,409.2 1358.3,410.1 1355.3,411.0 1352.3,411.9 1349.3,412.8 1346.3,413.7 1343.3,414.6 1340.3,415.5 1337.3,416.4 1334.3,417.3 1331.3,418.2 1328.3,419.1 1325.3,420.0 1322.3,420.9 1319.3,421.8 1316.3,422.7 1313.3,423.7 1310.3,424.6 1307.3,425.5 1304.3,426.5 1301.3,427.4 1298.3,428.3 1295.3,429.3 1292.3,430.2 1289.3,431.2 1286.3,432.1 1283.3,433.1 1280.3,434.0 1277.3,435.0 1274.3,436.0 1271.3,436.9 1268.3,437.9 1265.3,438.9 1262.3,439.8 1259.3,440.8 1256.3,441.8 1253.3,442.8 1250.3,443.8 1247.3,444.8 1244.3,445.8 1241.3,446.8 1238.3,447.8 1235.3,448.8 1232.3,449.8 1229.3,450.8 1226.3,451.8 1223.3,452.8 1220.3,453.8 1217.3,454.9 1214.3,455.9 1211.3,456.9 1208.3,458.0 1205.3,459.0 1202.3,460.0 1199.3,461.1 1196.3,462.1 1193.3,463.2 1190.3,464.2 1187.3,465.3 1184.3,466.3 1181.3,467.4 1178.3,468.5 1175.3,469.5 1172.3,470.6 1169.3,471.7 1166.3,472.8 1163.3,473.9 1160.3,474.9 1157.3,476.0 1154.3,477.1 1151.3,478.2 1148.3,479.3 1145.3,480.4 1142.3,481.5 1139.3,482.7 1136.3,483.8 1133.3,484.9 1130.3,486.0 1127.3,487.2 1124.3,488.3 1121.3,489.4 1118.3,490.6 1115.3,491.7 1112.3,492.8 1109.3,494.0 1106.3,495.1 1103.3,496.3 1100.3,497.5 1097.3,498.6 1094.3,499.8 1091.3,501.0 1088.3,502.1 1085.3,503.3 1082.3,504.5 1079.3,505.7 1076.3,506.9 1073.3,508.1 1070.3,509.3 1067.3,510.5 1064.3,511.7 1061.3,512.9 1058.3,514.2 1055.3,515.4 1052.3,516.6 1049.3,517.9 1046.3,519.1 1043.3,520.4 1040.3,521.6 1037.3,522.9 1034.3,524.2 1031.3,525.5 1028.3,526.8 1025.3,528.1 1022.3,529.4 1019.3,530.7 1016.3,532.0 1013.3,533.3 1010.3,534.6 1007.3,536.0 1004.3,537.3 1001.3,538.7 998.3,540.0 995.3,541.4 992.3,542.8 989.3,544.2 986.3,545.6 983.3,547.0 980.3,548.4 977.3,549.8 974.3,551.3 971.3,552.7 968.3,554.2 965.3,555.6 962.3,557.1 959.3,558.6 956.3,560.1 953.3,561.6 950.3,563.1 947.3,564.7 944.3,566.2 941.3,567.8 938.3,569.4 935.3,571.0 932.3,572.6 929.3,574.3 926.3,575.9 923.3,577.6 920.3,579.3 917.3,581.0 914.3,582.7 911.3,584.5 908.3,586.3 905.3,588.1 902.3,589.9 899.3,591.7 896.3,593.6 893.3,595.5 890.3,597.4 887.3,599.3 884.3,601.2 881.3,603.2 878.3,605.2 875.3,607.3 872.3,609.3 869.3,611.4 866.3,613.5 863.3,615.7 860.3,617.8 857.3,620.0 854.3,622.2 851.3,624.5 848.3,626.8 845.3,629.1 842.3,631.5 839.3,633.8 836.3,636.2 833.3,638.7 830.3,641.2 827.3,643.7 824.3,646.2 821.3,648.8 818.3,651.4 815.3,654.1 812.3,656.8 809.3,659.5 806.3,662.3 803.3,665.0 800.3,667.9 797.3,670.8 794.3,673.7 791.3,676.6 788.3,679.6 785.3,682.6 782.3,685.7 779.3,688.8 776.3,692.0 773.3,695.1 770.3,698.4 767.3,701.6 764.3,704.9 761.3,708.3 758.3,711.7 755.3,715.1 752.3,718.6 749.3,722.1 746.3,725.7 743.3,729.3 740.3,732.9 737.3,736.6 734.3,740.4 731.3,744.1 728.3,748.0 725.3,751.8 722.3,755.7 719.3,759.7 716.3,763.7 713.3,767.8 710.3,771.9 707.3,776.0 704.3,780.2 701.3,784.4 698.3,788.7 695.3,793.0 692.3,797.4 689.3,801.8 686.3,806.2 683.3,810.7 680.3,815.2 677.3,819.8 674.3,824.4 671.3,829.0 668.3,833.7 665.3,838.4 662.3,843.1 659.3,847.9 656.3,852.7 653.3,857.6 650.3,862.4 647.3,867.3 644.3,872.3 641.3,877.2 638.3,882.2 635.3,887.2 632.3,892.3 629.3,897.4 626.3,902.5 623.3,907.6 620.3,912.8 617.3,917.9 614.3,923.1 611.3,928.4 608.3,933.6 605.3,938.9 602.3,944.2 599.3,949.5 596.3,954.8 593.3,960.1 590.3,965.5 587.3,970.9 584.3,976.3 581.3,981.7 578.3,987.1 575.3,992.5 572.3,998.0 569.3,1003.5 566.3,1008.9 563.3,1014.4 560.3,1019.9 557.3,1025.4 554.3,1031.0 551.3,1036.5 548.3,1042.0 545.3,1047.6 542.3,1053.1 539.3,1058.7 536.3,1064.2 533.3,1069.7 530.3,1075.3 527.3,1080.8 524.3,1086.3 521.3,1091.7 518.3,1097.2 515.3,1102.6 512.3,1108.0 509.3,1113.3 506.3,1118.7 503.3,1123.9 500.3,1129.2 497.3,1134.4 494.3,1139.5 491.3,1144.6 488.3,1149.6 485.3,1154.6 482.3,1159.5 479.3,1164.4 476.3,1169.2 473.3,1173.9 470.3,1178.5 467.3,1183.0 464.3,1187.5 461.3,1191.9 458.3,1196.2 455.3,1200.4 452.3,1204.5 449.3,1208.5 446.3,1212.4 443.3,1216.2 440.3,1219.9 437.3,1223.5 434.3,1227.0 431.3,1230.4 428.3,1233.6 425.3,1236.8 422.3,1239.9 419.3,1242.8 416.3,1245.6 413.3,1248.4 410.3,1251.0 407.3,1253.5 404.3,1255.9 401.3,1258.2 398.3,1260.4 395.3,1262.5 392.3,1264.5 389.3,1266.4 386.3,1268.1 383.3,1269.8 380.3,1271.4 377.3,1272.8 374.3,1274.2 371.3,1275.5 368.3,1276.8 365.3,1278.0 362.3,1279.1 359.3,1280.1 356.3,1281.1 353.3,1282.0 350.3,1282.9 347.3,1283.8 344.3,1284.6 341.3,1285.4 338.3,1286.2 335.3,1287.0 332.3,1287.7 329.3,1288.4 326.3,1289.1 323.3,1289.8 320.3,1290.4 317.3,1291.0 314.3,1291.6 311.3,1292.3 308.3,1292.9 307.5,1293.0 306.7,1293.2 305.9,1293.4 305.1,1293.5 304.3,1293.7 303.5,1293.9 302.7,1294.0 301.9,1294.2 301.1,1294.4 300.3,1294.5 299.5,1294.7 298.7,1294.9 297.9,1295.1 297.0,1295.3 296.2,1295.5 295.4,1295.6 294.6,1295.8 293.8,1296.0 293.0,1296.2 292.2,1296.4 291.4,1296.5 290.7,1296.7 289.9,1296.9 289.2,1297.0 288.5,1297.2 287.8,1297.3 287.1,1297.5 286.3,1297.7 285.5,1297.8 284.7,1298.0 283.9,1298.3 283.0,1298.5 282.1,1298.8 281.1,1299.1 280.0,1299.4 278.8,1299.8 277.6,1300.1 276.4,1300.6 275.1,1301.0 273.9,1301.4 272.5,1301.9 271.2,1302.3 269.9,1302.8 268.6,1303.3 267.3,1303.8 266.1,1304.2 264.9,1304.7 263.7,1305.1 262.6,1305.6 261.5,1306.0 260.5,1306.4 259.7,1306.8 258.8,1307.1 258.1,1307.5 257.4,1307.8 256.8,1308.1 256.2,1308.4 255.6,1308.7 255.1,1309.1 254.5,1309.4 254.0,1309.7 253.5,1310.1 253.0,1310.5 252.4,1310.9 251.9,1311.3 251.4,1311.7 250.9,1312.1 250.4,1312.6 249.9,1313.1 249.4,1313.5 249.0,1314.0 248.6,1314.6 248.2,1315.1 247.8,1315.6 247.4,1316.2 247.1,1316.7 246.7,1317.3 246.4,1317.8 246.1,1318.4 245.8,1318.9 245.4,1319.5 245.1,1320.0 244.8,1320.5 244.5,1321.1 244.2,1321.6 244.0,1322.2 243.7,1322.7 243.5,1323.3 243.2,1323.9 243.0,1324.5 242.8,1325.1 242.6,1325.7 242.5,1326.4 242.3,1327.0 242.2,1327.7 242.0,1328.4 241.9,1329.2 241.8,1329.9 241.7,1330.7 241.6,1331.6 241.5,1332.4 241.5,1333.3 241.4,1334.1 241.3,1335.0 241.3,1335.9 241.2,1336.8 241.2,1337.7 241.1,1338.5 241.1,1339.4 241.0,1340.3 241.0,1341.1 241.0,1341.9 240.9,1342.7 240.9,1343.5 240.8,1344.2 240.7,1344.9 240.7,1345.6 240.6,1346.2 240.5,1346.8 L233.9,1346.8 Z"/>
<path fill="#0000ff" d="M233.3,1338.4 233.3,1337.4 233.3,1336.4 233.3,1335.4 233.3,1334.4 233.4,1333.4 233.4,1332.4 233.4,1331.4 233.5,1330.5 233.5,1329.5 233.5,1328.5 233.6,1327.6 233.7,1326.6 233.7,1325.7 233.8,1324.7 233.8,1323.8 233.9,1322.8 234.0,1321.9 234.0,1320.9 234.1,1320.0 234.2,1319.0 234.3,1318.1 234.4,1317.1 234.5,1316.2 234.6,1315.2 234.7,1314.2 234.8,1313.3 234.9,1312.3 235.0,1311.3 235.1,1310.4 235.2,1309.4 235.3,1308.4 235.5,1307.5 235.6,1306.6 235.8,1305.6 235.9,1304.7 236.1,1303.9 236.3,1303.0 236.5,1302.2 236.8,1301.4 237.0,1300.6 237.3,1299.8 237.6,1299.1 237.9,1298.4 238.3,1297.7 238.7,1297.1 239.1,1296.5 239.5,1295.9 240.0,1295.3 240.5,1294.7 241.1,1294.2 241.7,1293.7 242.3,1293.2 242.9,1292.7 243.5,1292.3 244.2,1291.9 244.9,1291.5 245.5,1291.1 246.2,1290.8 246.9,1290.5 247.5,1290.2 248.2,1289.9 248.9,1289.7 249.6,1289.4 250.4,1289.1 251.2,1288.8 252.0,1288.5 252.8,1288.2 253.7,1287.8 254.7,1287.4 255.7,1286.9 256.8,1286.4 258.0,1285.9 259.1,1285.3 260.3,1284.7 261.5,1284.1 262.8,1283.5 264.0,1282.9 265.3,1282.3 266.6,1281.7 267.8,1281.1 269.0,1280.5 270.3,1280.0 271.4,1279.5 272.6,1279.0 273.7,1278.5 274.7,1278.2 275.7,1277.8 276.6,1277.6 277.5,1277.3 278.3,1277.1 279.1,1277.0 279.9,1276.9 280.7,1276.7 281.4,1276.6 282.2,1276.5 282.9,1276.4 283.7,1276.3 284.5,1276.2 285.3,1276.0 286.1,1275.9 286.9,1275.7 287.7,1275.5 288.5,1275.3 289.4,1275.2 290.2,1275.0 291.0,1274.8 291.9,1274.6 292.7,1274.4 293.5,1274.2 294.4,1274.0 295.2,1273.8 296.0,1273.7 296.8,1273.5 297.6,1273.3 298.4,1273.1 299.3,1273.0 300.1,1272.8 300.9,1272.6 301.7,1272.4 304.7,1271.8 307.7,1271.1 310.7,1270.4 313.7,1269.8 316.7,1269.1 319.7,1268.4 322.7,1267.7 325.7,1267.0 328.7,1266.3 331.7,1265.6 334.7,1264.8 337.7,1264.1 340.7,1263.4 343.7,1262.7 346.7,1262.0 349.7,1261.3 352.7,1260.6 355.7,1259.9 358.7,1259.2 361.7,1258.4 364.7,1257.7 367.7,1256.9 370.7,1256.1 373.7,1255.4 376.7,1254.6 379.7,1253.8 382.7,1253.0 385.7,1252.2 388.7,1251.3 391.7,1250.5 394.7,1249.7 397.7,1248.9 400.7,1248.1 403.7,1247.3 406.7,1246.5 409.7,1245.7 412.7,1244.9 415.7,1244.0 418.7,1243.1 421.7,1242.3 424.7,1241.4 427.7,1240.6 430.7,1239.7 433.7,1238.6 436.7,1237.5 439.7,1236.3 442.7,1234.9 445.7,1233.4 448.7,1231.8 451.7,1230.2 454.7,1228.6 457.7,1226.9 460.7,1225.2 463.7,1223.5 466.7,1221.6 469.7,1219.7 472.7,1217.7 475.7,1215.7 478.7,1213.7 481.7,1211.6 484.7,1209.5 487.7,1207.3 490.7,1205.1 493.7,1202.8 496.7,1200.3 499.7,1197.8 502.7,1195.1 505.7,1192.4 508.7,1189.5 511.7,1186.6 514.7,1183.5 517.7,1180.3 520.7,1177.0 523.7,1173.6 526.7,1170.1 529.7,1166.4 532.7,1162.6 535.7,1158.8 538.7,1154.8 541.7,1150.7 544.7,1146.6 547.7,1142.3 550.7,1138.0 553.7,1133.5 556.7,1129.0 559.7,1124.4 562.7,1119.7 565.7,1115.0 568.7,1110.2 571.7,1105.3 574.7,1100.3 577.7,1095.3 580.7,1090.2 583.7,1085.0 586.7,1079.8 589.7,1074.6 592.7,1069.3 595.7,1063.9 598.7,1058.5 601.7,1053.1 604.7,1047.6 607.7,1042.1 610.7,1036.6 613.7,1031.1 616.7,1025.5 619.7,1019.9 622.7,1014.2 625.7,1008.6 628.7,1003.0 631.7,997.3 634.7,991.6 637.7,985.9 640.7,980.3 643.7,974.6 646.7,968.9 649.7,963.2 652.7,957.6 655.7,951.9 658.7,946.3 661.7,940.7 664.7,935.1 667.7,929.6 670.7,924.0 673.7,918.5 676.7,913.1 679.7,907.6 682.7,902.2 685.7,896.9 688.7,891.6 691.7,886.3 694.7,881.1 697.7,876.0 700.7,870.9 703.7,865.8 706.7,860.8 709.7,855.9 712.7,851.0 715.7,846.1 718.7,841.3 721.7,836.6 724.7,831.9 727.7,827.3 730.7,822.7 733.7,818.1 736.7,813.6 739.7,809.2 742.7,804.7 745.7,800.4 748.7,796.1 751.7,791.8 754.7,787.6 757.7,783.4 760.7,779.3 763.7,775.2 766.7,771.1 769.7,767.1 772.7,763.2 775.7,759.3 778.7,755.4 781.7,751.6 784.7,747.8 787.7,744.1 790.7,740.4 793.7,736.7 796.7,733.1 799.7,729.5 802.7,726.0 805.7,722.5 808.7,719.0 811.7,715.6 814.7,712.2 817.7,708.9 820.7,705.5 823.7,702.3 826.7,699.0 829.7,695.9 832.7,692.7 835.7,689.6 838.7,686.5 841.7,683.4 844.7,680.4 847.7,677.4 850.7,674.5 853.7,671.6 856.7,668.7 859.7,665.9 862.7,663.0 865.7,660.3 868.7,657.5 871.7,654.8 874.7,652.1 877.7,649.5 880.7,646.8 883.7,644.2 886.7,641.7 889.7,639.1 892.7,636.6 895.7,634.2 898.7,631.7 901.7,629.3 904.7,626.9 907.7,624.5 910.7,622.2 913.7,619.9 916.7,617.6 919.7,615.4 922.7,613.1 925.7,610.9 928.7,608.8 931.7,606.6 934.7,604.5 937.7,602.4 940.7,600.3 943.7,598.2 946.7,596.2 949.7,594.2 952.7,592.2 955.7,590.2 958.7,588.3 961.7,586.4 964.7,584.5 967.7,582.6 970.7,580.7 973.7,578.9 976.7,577.1 979.7,575.3 982.7,573.5 985.7,571.7 988.7,570.0 991.7,568.3 994.7,566.6 997.7,564.9 1000.7,563.2 1003.7,561.6 1006.7,560.0 1009.7,558.3 1012.7,556.7 1015.7,555.2 1018.7,553.6 1021.7,552.0 1024.7,550.5 1027.7,549.0 1030.7,547.5 1033.7,546.0 1036.7,544.5 1039.7,543.1 1042.7,541.6 1045.7,540.2 1048.7,538.8 1051.7,537.4 1054.7,536.0 1057.7,534.6 1060.7,533.2 1063.7,531.8 1066.7,530.5 1069.7,529.2 1072.7,527.8 1075.7,526.5 1078.7,525.2 1081.7,523.9 1084.7,522.6 1087.7,521.3 1090.7,520.1 1093.7,518.8 1096.7,517.6 1099.7,516.3 1102.7,515.1 1105.7,513.8 1108.7,512.6 1111.7,511.4 1114.7,510.2 1117.7,509.0 1120.7,507.8 1123.7,506.6 1126.7,505.4 1129.7,504.2 1132.7,503.0 1135.7,501.8 1138.7,500.7 1141.7,499.5 1144.7,498.3 1147.7,497.2 1150.7,496.0 1153.7,494.9 1156.7,493.7 1159.7,492.6 1162.7,491.4 1165.7,490.3 1168.7,489.1 1171.7,488.0 1174.7,486.9 1177.7,485.8 1180.7,484.6 1183.7,483.5 1186.7,482.4 1189.7,481.3 1192.7,480.2 1195.7,479.1 1198.7,478.0 1201.7,476.9 1204.7,475.8 1207.7,474.7 1210.7,473.6 1213.7,472.5 1216.7,471.4 1219.7,470.4 1222.7,469.3 1225.7,468.2 1228.7,467.2 1231.7,466.1 1234.7,465.0 1237.7,464.0 1240.7,462.9 1243.7,461.9 1246.7,460.8 1249.7,459.8 1252.7,458.7 1255.7,457.7 1258.7,456.7 1261.7,455.7 1264.7,454.6 1267.7,453.6 1270.7,452.6 1273.7,451.6 1276.7,450.6 1279.7,449.6 1282.7,448.5 1285.7,447.5 1288.7,446.5 1291.7,445.6 1294.7,444.6 1297.7,443.6 1300.7,442.6 1303.7,441.6 1306.7,440.6 1309.7,439.6 1312.7,438.7 1315.7,437.7 1318.7,436.7 1321.7,435.8 1324.7,434.8 1327.7,433.9 1330.7,432.9 1333.7,432.0 1336.7,431.0 1339.7,430.1 1342.7,429.1 1345.7,428.2 1348.7,427.3 1351.7,426.3 1354.7,425.4 1357.7,424.5 1360.7,423.6 1363.7,422.6 1366.7,421.7 1369.7,420.8 1372.7,419.9 1375.7,419.0 1378.7,418.1 1381.7,417.2 1384.7,416.3 1387.7,415.4 1390.7,414.5 1393.7,413.6 1396.7,412.7 1399.7,411.8 1402.7,411.0 1405.7,410.1 1408.7,409.2 1411.7,408.4 1414.7,407.5 1417.7,406.6 1420.7,405.8 1423.7,404.9 1426.7,404.1 1429.7,403.2 1432.7,402.3 1435.7,401.5 1438.7,400.7 1441.7,399.8 1444.7,399.0 1447.7,398.1 1450.7,397.3 1453.7,396.5 1456.7,395.7 1459.7,394.8 1462.7,394.0 1465.7,393.2 1468.7,392.4 1471.7,391.6 1474.7,390.8 1477.7,390.0 1480.7,389.2 1483.7,388.4 1486.7,387.6 1489.7,386.8 1492.7,386.0 1495.7,385.2 1498.7,384.4 1501.7,383.6 1504.7,382.8 1507.7,382.1 1510.7,381.3 1513.7,380.5 1516.7,379.7 1519.7,379.0 1522.7,378.2 1525.7,377.4 1528.7,376.7 1531.7,375.9 1534.7,375.2 1537.7,374.4 1540.7,373.7 1543.7,372.9 1546.7,372.2 1549.7,371.5 1552.7,370.7 1555.7,370.0 1558.7,369.2 1561.7,368.5 1564.7,367.8 1567.7,367.1 1570.7,366.3 1573.7,365.6 1576.7,364.9 1579.7,364.2 1582.7,363.5 1585.7,362.8 1588.7,362.1 1591.7,361.4 1594.7,360.7 1597.7,360.0 1600.7,359.3 1603.7,358.6 1606.7,357.9 1609.7,357.2 1612.7,356.5 1615.7,355.8 1618.7,355.1 1621.7,354.5 1624.7,353.8 1627.7,353.1 1630.7,352.4 1633.7,351.8 1636.7,351.1 1639.7,350.4 1642.7,349.8 1645.7,349.1 1648.7,348.5 1651.7,347.8 1654.7,347.2 1657.7,346.5 1660.7,345.9 1663.7,345.2 1666.7,344.6 1669.7,343.9 1672.7,343.3 1674.9,342.8 L1681.5,342.8 1681.5,351.2 1679.3,351.7 1676.3,352.3 1673.3,353.0 1670.3,353.6 1667.3,354.3 1664.3,354.9 1661.3,355.6 1658.3,356.2 1655.3,356.9 1652.3,357.5 1649.3,358.2 1646.3,358.8 1643.3,359.5 1640.3,360.2 1637.3,360.8 1634.3,361.5 1631.3,362.2 1628.3,362.9 1625.3,363.5 1622.3,364.2 1619.3,364.9 1616.3,365.6 1613.3,366.3 1610.3,367.0 1607.3,367.7 1604.3,368.4 1601.3,369.1 1598.3,369.8 1595.3,370.5 1592.3,371.2 1589.3,371.9 1586.3,372.6 1583.3,373.3 1580.3,374.0 1577.3,374.7 1574.3,375.5 1571.3,376.2 1568.3,376.9 1565.3,377.6 1562.3,378.4 1559.3,379.1 1556.3,379.9 1553.3,380.6 1550.3,381.3 1547.3,382.1 1544.3,382.8 1541.3,383.6 1538.3,384.3 1535.3,385.1 1532.3,385.8 1529.3,386.6 1526.3,387.4 1523.3,388.1 1520.3,388.9 1517.3,389.7 1514.3,390.5 1511.3,391.2 1508.3,392.0 1505.3,392.8 1502.3,393.6 1499.3,394.4 1496.3,395.2 1493.3,396.0 1490.3,396.8 1487.3,397.6 1484.3,398.4 1481.3,399.2 1478.3,400.0 1475.3,400.8 1472.3,401.6 1469.3,402.4 1466.3,403.2 1463.3,404.1 1460.3,404.9 1457.3,405.7 1454.3,406.5 1451.3,407.4 1448.3,408.2 1445.3,409.1 1442.3,409.9 1439.3,410.7 1436.3,411.6 1433.3,412.5 1430.3,413.3 1427.3,414.2 1424.3,415.0 1421.3,415.9 1418.3,416.8 1415.3,417.6 1412.3,418.5 1409.3,419.4 1406.3,420.2 1403.3,421.1 1400.3,422.0 1397.3,422.9 1394.3,423.8 1391.3,424.7 1388.3,425.6 1385.3,426.5 1382.3,427.4 1379.3,428.3 1376.3,429.2 1373.3,430.1 1370.3,431.0 1367.3,432.0 1364.3,432.9 1361.3,433.8 1358.3,434.7 1355.3,435.7 1352.3,436.6 1349.3,437.5 1346.3,438.5 1343.3,439.4 1340.3,440.4 1337.3,441.3 1334.3,442.3 1331.3,443.2 1328.3,444.2 1325.3,445.1 1322.3,446.1 1319.3,447.1 1316.3,448.0 1313.3,449.0 1310.3,450.0 1307.3,451.0 1304.3,452.0 1301.3,453.0 1298.3,454.0 1295.3,454.9 1292.3,455.9 1289.3,456.9 1286.3,458.0 1283.3,459.0 1280.3,460.0 1277.3,461.0 1274.3,462.0 1271.3,463.0 1268.3,464.1 1265.3,465.1 1262.3,466.1 1259.3,467.1 1256.3,468.2 1253.3,469.2 1250.3,470.3 1247.3,471.3 1244.3,472.4 1241.3,473.4 1238.3,474.5 1235.3,475.6 1232.3,476.6 1229.3,477.7 1226.3,478.8 1223.3,479.8 1220.3,480.9 1217.3,482.0 1214.3,483.1 1211.3,484.2 1208.3,485.3 1205.3,486.4 1202.3,487.5 1199.3,488.6 1196.3,489.7 1193.3,490.8 1190.3,491.9 1187.3,493.0 1184.3,494.2 1181.3,495.3 1178.3,496.4 1175.3,497.5 1172.3,498.7 1169.3,499.8 1166.3,501.0 1163.3,502.1 1160.3,503.3 1157.3,504.4 1154.3,505.6 1151.3,506.7 1148.3,507.9 1145.3,509.1 1142.3,510.2 1139.3,511.4 1136.3,512.6 1133.3,513.8 1130.3,515.0 1127.3,516.2 1124.3,517.4 1121.3,518.6 1118.3,519.8 1115.3,521.0 1112.3,522.2 1109.3,523.5 1106.3,524.7 1103.3,526.0 1100.3,527.2 1097.3,528.5 1094.3,529.7 1091.3,531.0 1088.3,532.3 1085.3,533.6 1082.3,534.9 1079.3,536.2 1076.3,537.6 1073.3,538.9 1070.3,540.2 1067.3,541.6 1064.3,543.0 1061.3,544.4 1058.3,545.8 1055.3,547.2 1052.3,548.6 1049.3,550.0 1046.3,551.5 1043.3,552.9 1040.3,554.4 1037.3,555.9 1034.3,557.4 1031.3,558.9 1028.3,560.4 1025.3,562.0 1022.3,563.6 1019.3,565.1 1016.3,566.7 1013.3,568.4 1010.3,570.0 1007.3,571.6 1004.3,573.3 1001.3,575.0 998.3,576.7 995.3,578.4 992.3,580.1 989.3,581.9 986.3,583.7 983.3,585.5 980.3,587.3 977.3,589.1 974.3,591.0 971.3,592.9 968.3,594.8 965.3,596.7 962.3,598.6 959.3,600.6 956.3,602.6 953.3,604.6 950.3,606.6 947.3,608.7 944.3,610.8 941.3,612.9 938.3,615.0 935.3,617.2 932.3,619.3 929.3,621.5 926.3,623.8 923.3,626.0 920.3,628.3 917.3,630.6 914.3,632.9 911.3,635.3 908.3,637.7 905.3,640.1 902.3,642.6 899.3,645.0 896.3,647.5 893.3,650.1 890.3,652.6 887.3,655.2 884.3,657.9 881.3,660.5 878.3,663.2 875.3,665.9 872.3,668.7 869.3,671.4 866.3,674.3 863.3,677.1 860.3,680.0 857.3,682.9 854.3,685.8 851.3,688.8 848.3,691.8 845.3,694.9 842.3,698.0 839.3,701.1 836.3,704.3 833.3,707.4 830.3,710.7 827.3,713.9 824.3,717.3 821.3,720.6 818.3,724.0 815.3,727.4 812.3,730.9 809.3,734.4 806.3,737.9 803.3,741.5 800.3,745.1 797.3,748.8 794.3,752.5 791.3,756.2 788.3,760.0 785.3,763.8 782.3,767.7 779.3,771.6 776.3,775.5 773.3,779.5 770.3,783.6 767.3,787.7 764.3,791.8 761.3,796.0 758.3,800.2 755.3,804.5 752.3,808.8 749.3,813.1 746.3,817.6 743.3,822.0 740.3,826.5 737.3,831.1 734.3,835.7 731.3,840.3 728.3,845.0 725.3,849.7 722.3,854.5 719.3,859.4 716.3,864.3 713.3,869.2 710.3,874.2 707.3,879.3 704.3,884.4 701.3,889.5 698.3,894.7 695.3,900.0 692.3,905.3 689.3,910.6 686.3,916.0 683.3,921.5 680.3,926.9 677.3,932.4 674.3,938.0 671.3,943.5 668.3,949.1 665.3,954.7 662.3,960.3 659.3,966.0 656.3,971.6 653.3,977.3 650.3,983.0 647.3,988.7 644.3,994.3 641.3,1000.0 638.3,1005.7 635.3,1011.4 632.3,1017.0 629.3,1022.6 626.3,1028.3 623.3,1033.9 620.3,1039.5 617.3,1045.0 614.3,1050.5 611.3,1056.0 608.3,1061.5 605.3,1066.9 602.3,1072.3 599.3,1077.7 596.3,1083.0 593.3,1088.2 590.3,1093.4 587.3,1098.6 584.3,1103.7 581.3,1108.7 578.3,1113.7 575.3,1118.6 572.3,1123.4 569.3,1128.1 566.3,1132.8 563.3,1137.4 560.3,1141.9 557.3,1146.4 554.3,1150.7 551.3,1155.0 548.3,1159.1 545.3,1163.2 542.3,1167.2 539.3,1171.0 536.3,1174.8 533.3,1178.5 530.3,1182.0 527.3,1185.4 524.3,1188.7 521.3,1191.9 518.3,1195.0 515.3,1197.9 512.3,1200.8 509.3,1203.5 506.3,1206.2 503.3,1208.7 500.3,1211.2 497.3,1213.5 494.3,1215.7 491.3,1217.9 488.3,1220.0 485.3,1222.1 482.3,1224.1 479.3,1226.1 476.3,1228.1 473.3,1230.0 470.3,1231.9 467.3,1233.6 464.3,1235.3 461.3,1237.0 458.3,1238.6 455.3,1240.2 452.3,1241.8 449.3,1243.3 446.3,1244.7 443.3,1245.9 440.3,1247.0 437.3,1248.1 434.3,1249.0 431.3,1249.8 428.3,1250.7 425.3,1251.5 422.3,1252.4 419.3,1253.3 416.3,1254.1 413.3,1254.9 410.3,1255.7 407.3,1256.5 404.3,1257.3 401.3,1258.1 398.3,1258.9 395.3,1259.7 392.3,1260.6 389.3,1261.4 386.3,1262.2 383.3,1263.0 380.3,1263.8 377.3,1264.5 374.3,1265.3 371.3,1266.1 368.3,1266.8 365.3,1267.6 362.3,1268.3 359.3,1269.0 356.3,1269.7 353.3,1270.4 350.3,1271.1 347.3,1271.8 344.3,1272.5 341.3,1273.2 338.3,1274.0 335.3,1274.7 332.3,1275.4 329.3,1276.1 326.3,1276.8 323.3,1277.5 320.3,1278.2 317.3,1278.8 314.3,1279.5 311.3,1280.2 308.3,1280.8 307.5,1281.0 306.7,1281.2 305.9,1281.4 305.0,1281.5 304.2,1281.7 303.4,1281.9 302.6,1282.1 301.8,1282.2 301.0,1282.4 300.1,1282.6 299.3,1282.8 298.5,1283.0 297.6,1283.2 296.8,1283.4 296.0,1283.6 295.1,1283.7 294.3,1283.9 293.5,1284.1 292.7,1284.3 291.9,1284.4 291.1,1284.6 290.3,1284.7 289.5,1284.8 288.8,1284.9 288.0,1285.0 287.3,1285.1 286.5,1285.3 285.7,1285.4 284.9,1285.5 284.1,1285.7 283.2,1286.0 282.3,1286.2 281.3,1286.6 280.3,1286.9 279.2,1287.4 278.0,1287.9 276.9,1288.4 275.6,1288.9 274.4,1289.5 273.2,1290.1 271.9,1290.7 270.6,1291.3 269.4,1291.9 268.1,1292.5 266.9,1293.1 265.7,1293.7 264.6,1294.3 263.4,1294.8 262.3,1295.3 261.3,1295.8 260.3,1296.2 259.4,1296.6 258.6,1296.9 257.8,1297.2 257.0,1297.5 256.2,1297.8 255.5,1298.1 254.8,1298.3 254.1,1298.6 253.5,1298.9 252.8,1299.2 252.1,1299.5 251.5,1299.9 250.8,1300.3 250.1,1300.7 249.5,1301.1 248.9,1301.6 248.3,1302.1 247.7,1302.6 247.1,1303.1 246.6,1303.7 246.1,1304.3 245.7,1304.9 245.3,1305.5 244.9,1306.1 244.5,1306.8 244.2,1307.5 243.9,1308.2 243.6,1309.0 243.4,1309.8 243.1,1310.6 242.9,1311.4 242.7,1312.3 242.5,1313.1 242.4,1314.0 242.2,1315.0 242.1,1315.9 241.9,1316.8 241.8,1317.8 241.7,1318.8 241.6,1319.7 241.5,1320.7 241.4,1321.7 241.3,1322.6 241.2,1323.6 241.1,1324.6 241.0,1325.5 240.9,1326.5 240.8,1327.4 240.7,1328.4 240.6,1329.3 240.6,1330.3 240.5,1331.2 240.4,1332.2 240.4,1333.1 240.3,1334.1 240.3,1335.0 240.2,1336.0 240.1,1336.9 240.1,1337.9 240.1,1338.9 240.0,1339.8 240.0,1340.8 240.0,1341.8 239.9,1342.8 239.9,1343.8 239.9,1344.8 239.9,1345.8 239.9,1346.8 L233.3,1346.8 Z"/>
<path fill="#008080" d="M233.3,1338.4 233.3,1337.4 233.3,1336.4 233.3,1335.4 233.3,1334.4 233.4,1333.4 233.4,1332.4 233.4,1331.5 233.5,1330.5 233.5,1329.5 233.5,1328.6 233.6,1327.6 233.6,1326.6 233.7,1325.7 233.8,1324.7 233.8,1323.8 233.9,1322.8 234.0,1321.9 234.0,1321.0 234.1,1320.0 234.2,1319.1 234.3,1318.1 234.4,1317.2 234.5,1316.2 234.6,1315.2 234.7,1314.3 234.8,1313.3 234.9,1312.3 235.0,1311.4 235.1,1310.4 235.2,1309.4 235.3,1308.5 235.5,1307.5 235.6,1306.6 235.8,1305.7 235.9,1304.8 236.1,1303.9 236.3,1303.0 236.5,1302.2 236.8,1301.4 237.0,1300.6 237.3,1299.9 237.6,1299.1 237.9,1298.4 238.3,1297.8 238.6,1297.1 239.1,1296.5 239.5,1295.9 240.0,1295.3 240.5,1294.8 241.0,1294.2 241.6,1293.7 242.2,1293.3 242.9,1292.8 243.5,1292.4 244.1,1291.9 244.8,1291.5 245.5,1291.2 246.1,1290.8 246.8,1290.5 247.5,1290.2 248.2,1289.9 248.8,1289.6 249.6,1289.3 250.3,1289.0 251.1,1288.7 251.9,1288.4 252.7,1288.1 253.7,1287.8 254.6,1287.4 255.7,1287.0 256.8,1286.6 257.9,1286.2 259.1,1285.8 260.3,1285.3 261.6,1284.8 262.8,1284.4 264.1,1283.9 265.4,1283.4 266.7,1282.9 267.9,1282.5 269.2,1282.0 270.4,1281.6 271.6,1281.1 272.7,1280.7 273.8,1280.4 274.9,1280.0 275.9,1279.7 276.8,1279.4 277.6,1279.2 278.5,1278.9 279.3,1278.7 280.0,1278.5 280.8,1278.3 281.5,1278.1 282.3,1277.9 283.0,1277.7 283.8,1277.6 284.5,1277.4 285.3,1277.2 286.1,1277.0 286.9,1276.8 287.7,1276.6 288.6,1276.4 289.4,1276.2 290.2,1276.0 291.1,1275.8 291.9,1275.6 292.7,1275.4 293.5,1275.2 294.4,1275.0 295.2,1274.8 296.0,1274.6 296.8,1274.4 297.6,1274.2 298.5,1274.1 299.3,1273.9 300.1,1273.7 300.9,1273.5 301.7,1273.4 304.7,1272.7 307.7,1272.1 310.7,1271.4 313.7,1270.8 316.7,1270.2 319.7,1269.6 322.7,1268.9 325.7,1268.3 328.7,1267.7 331.7,1267.1 334.7,1266.4 337.7,1265.8 340.7,1265.2 343.7,1264.7 346.7,1264.1 349.7,1263.5 352.7,1263.0 355.7,1262.4 358.7,1261.9 361.7,1261.3 364.7,1260.8 367.7,1260.2 370.7,1259.7 373.7,1259.1 376.7,1258.6 379.7,1258.0 382.7,1257.5 385.7,1256.9 388.7,1256.4 391.7,1255.8 394.7,1255.3 397.7,1254.7 400.7,1254.2 403.7,1253.6 406.7,1253.1 409.7,1252.5 412.7,1251.9 415.7,1251.4 418.7,1250.8 421.7,1250.2 424.7,1249.7 427.7,1249.2 430.7,1248.6 433.7,1248.0 436.7,1247.4 439.7,1246.6 442.7,1245.8 445.7,1244.9 448.7,1243.9 451.7,1243.0 454.7,1242.1 457.7,1241.3 460.7,1240.4 463.7,1239.5 466.7,1238.6 469.7,1237.7 472.7,1236.8 475.7,1235.9 478.7,1235.1 481.7,1234.3 484.7,1233.5 487.7,1232.8 490.7,1232.1 493.7,1231.3 496.7,1230.5 499.7,1229.8 502.7,1229.0 505.7,1228.2 508.7,1227.3 511.7,1226.5 514.7,1225.7 517.7,1224.9 520.7,1224.0 523.7,1223.2 526.7,1222.3 529.7,1221.5 532.7,1220.6 535.7,1219.7 538.7,1218.7 541.7,1217.8 544.7,1216.9 547.7,1215.9 550.7,1214.9 553.7,1213.9 556.7,1212.8 559.7,1211.7 562.7,1210.6 565.7,1209.5 568.7,1208.3 571.7,1207.1 574.7,1205.9 577.7,1204.6 580.7,1203.3 583.7,1202.0 586.7,1200.6 589.7,1199.2 592.7,1197.7 595.7,1196.2 598.7,1194.6 601.7,1193.0 604.7,1191.4 607.7,1189.7 610.7,1187.9 613.7,1186.1 616.7,1184.2 619.7,1182.3 622.7,1180.3 625.7,1178.2 628.7,1176.1 631.7,1174.0 634.7,1171.7 637.7,1169.4 640.7,1167.1 643.7,1164.6 646.7,1162.1 649.7,1159.5 652.7,1156.9 655.7,1154.2 658.7,1151.4 661.7,1148.5 664.7,1145.5 667.7,1142.5 670.7,1139.4 673.7,1136.1 676.7,1132.9 679.7,1129.5 682.7,1126.0 685.7,1122.5 688.7,1118.8 691.7,1115.1 694.7,1111.2 697.7,1107.3 700.7,1103.3 703.7,1099.1 706.7,1094.9 709.7,1090.6 712.7,1086.2 715.7,1081.7 718.7,1077.1 721.7,1072.5 724.7,1067.8 727.7,1063.1 730.7,1058.3 733.7,1053.4 736.7,1048.6 739.7,1043.7 742.7,1038.7 745.7,1033.8 748.7,1028.8 751.7,1023.9 754.7,1018.9 757.7,1013.9 760.7,1009.0 763.7,1004.0 766.7,999.1 769.7,994.2 772.7,989.2 775.7,984.3 778.7,979.4 781.7,974.6 784.7,969.7 787.7,964.8 790.7,960.0 793.7,955.2 796.7,950.4 799.7,945.6 802.7,940.8 805.7,936.1 808.7,931.3 811.7,926.6 814.7,921.9 817.7,917.2 820.7,912.5 823.7,907.8 826.7,903.1 829.7,898.4 832.7,893.8 835.7,889.2 838.7,884.5 841.7,879.9 844.7,875.3 847.7,870.7 850.7,866.1 853.7,861.5 856.7,857.0 859.7,852.4 862.7,847.9 865.7,843.4 868.7,838.9 871.7,834.4 874.7,830.0 877.7,825.5 880.7,821.1 883.7,816.7 886.7,812.4 889.7,808.0 892.7,803.7 895.7,799.4 898.7,795.2 901.7,791.0 904.7,786.8 907.7,782.6 910.7,778.5 913.7,774.5 916.7,770.4 919.7,766.5 922.7,762.5 925.7,758.6 928.7,754.8 931.7,751.0 934.7,747.3 937.7,743.6 940.7,740.0 943.7,736.4 946.7,732.9 949.7,729.4 952.7,726.0 955.7,722.6 958.7,719.3 961.7,716.0 964.7,712.8 967.7,709.7 970.7,706.6 973.7,703.5 976.7,700.5 979.7,697.6 982.7,694.7 985.7,691.9 988.7,689.0 991.7,686.3 994.7,683.5 997.7,680.8 1000.7,678.2 1003.7,675.5 1006.7,672.9 1009.7,670.3 1012.7,667.7 1015.7,665.2 1018.7,662.7 1021.7,660.2 1024.7,657.7 1027.7,655.2 1030.7,652.8 1033.7,650.4 1036.7,648.1 1039.7,645.8 1042.7,643.5 1045.7,641.2 1048.7,639.0 1051.7,636.8 1054.7,634.6 1057.7,632.5 1060.7,630.4 1063.7,628.3 1066.7,626.3 1069.7,624.3 1072.7,622.3 1075.7,620.4 1078.7,618.5 1081.7,616.6 1084.7,614.8 1087.7,613.0 1090.7,611.2 1093.7,609.4 1096.7,607.7 1099.7,605.9 1102.7,604.2 1105.7,602.6 1108.7,600.9 1111.7,599.3 1114.7,597.7 1117.7,596.1 1120.7,594.5 1123.7,592.9 1126.7,591.4 1129.7,589.8 1132.7,588.3 1135.7,586.8 1138.7,585.3 1141.7,583.8 1144.7,582.3 1147.7,580.8 1150.7,579.3 1153.7,577.9 1156.7,576.4 1159.7,575.0 1162.7,573.5 1165.7,572.1 1168.7,570.7 1171.7,569.3 1174.7,567.9 1177.7,566.5 1180.7,565.1 1183.7,563.7 1186.7,562.3 1189.7,561.0 1192.7,559.6 1195.7,558.3 1198.7,556.9 1201.7,555.6 1204.7,554.3 1207.7,552.9 1210.7,551.6 1213.7,550.3 1216.7,549.0 1219.7,547.7 1222.7,546.5 1225.7,545.2 1228.7,543.9 1231.7,542.7 1234.7,541.4 1237.7,540.2 1240.7,538.9 1243.7,537.7 1246.7,536.5 1249.7,535.2 1252.7,534.0 1255.7,532.8 1258.7,531.6 1261.7,530.4 1264.7,529.2 1267.7,528.1 1270.7,526.9 1273.7,525.7 1276.7,524.6 1279.7,523.4 1282.7,522.3 1285.7,521.1 1288.7,520.0 1291.7,518.8 1294.7,517.7 1297.7,516.6 1300.7,515.5 1303.7,514.4 1306.7,513.3 1309.7,512.2 1312.7,511.1 1315.7,510.0 1318.7,508.9 1321.7,507.8 1324.7,506.7 1327.7,505.7 1330.7,504.6 1333.7,503.6 1336.7,502.5 1339.7,501.5 1342.7,500.4 1345.7,499.4 1348.7,498.3 1351.7,497.3 1354.7,496.3 1357.7,495.3 1360.7,494.2 1363.7,493.2 1366.7,492.2 1369.7,491.2 1372.7,490.2 1375.7,489.2 1378.7,488.2 1381.7,487.3 1384.7,486.3 1387.7,485.3 1390.7,484.3 1393.7,483.3 1396.7,482.4 1399.7,481.4 1402.7,480.4 1405.7,479.5 1408.7,478.5 1411.7,477.6 1414.7,476.6 1417.7,475.7 1420.7,474.7 1423.7,473.8 1426.7,472.9 1429.7,471.9 1432.7,471.0 1435.7,470.1 1438.7,469.1 1441.7,468.2 1444.7,467.3 1447.7,466.4 1450.7,465.5 1453.7,464.6 1456.7,463.7 1459.7,462.8 1462.7,461.9 1465.7,461.0 1468.7,460.1 1471.7,459.2 1474.7,458.3 1477.7,457.4 1480.7,456.5 1483.7,455.6 1486.7,454.7 1489.7,453.8 1492.7,453.0 1495.7,452.1 1498.7,451.2 1501.7,450.3 1504.7,449.5 1507.7,448.6 1510.7,447.7 1513.7,446.9 1516.7,446.0 1519.7,445.2 1522.7,444.3 1525.7,443.4 1528.7,442.6 1531.7,441.7 1534.7,440.9 1537.7,440.0 1540.7,439.2 1543.7,438.3 1546.7,437.5 1549.7,436.6 1552.7,435.8 1555.7,435.0 1558.7,434.1 1561.7,433.3 1564.7,432.4 1567.7,431.6 1570.7,430.8 1573.7,429.9 1576.7,429.1 1579.7,428.3 1582.7,427.4 1585.7,426.6 1588.7,425.8 1591.7,424.9 1594.7,424.1 1597.7,423.3 1600.7,422.4 1603.7,421.6 1606.7,420.8 1609.7,420.0 1612.7,419.1 1615.7,418.3 1618.7,417.5 1621.7,416.7 1624.7,415.8 1627.7,415.0 1630.7,414.2 1633.7,413.4 1636.7,412.5 1639.7,411.7 1642.7,410.9 1645.7,410.1 1648.7,409.2 1651.7,408.4 1654.7,407.6 1657.7,406.8 1660.7,405.9 1663.7,405.1 1666.7,404.3 1669.7,403.5 1672.7,402.6 1674.9,402.0 L1681.5,402.0 1681.5,410.4 1679.3,411.0 1676.3,411.9 1673.3,412.7 1670.3,413.5 1667.3,414.3 1664.3,415.2 1661.3,416.0 1658.3,416.8 1655.3,417.6 1652.3,418.5 1649.3,419.3 1646.3,420.1 1643.3,420.9 1640.3,421.8 1637.3,422.6 1634.3,423.4 1631.3,424.2 1628.3,425.1 1625.3,425.9 1622.3,426.7 1619.3,427.5 1616.3,428.4 1613.3,429.2 1610.3,430.0 1607.3,430.8 1604.3,431.7 1601.3,432.5 1598.3,433.3 1595.3,434.2 1592.3,435.0 1589.3,435.8 1586.3,436.7 1583.3,437.5 1580.3,438.3 1577.3,439.2 1574.3,440.0 1571.3,440.8 1568.3,441.7 1565.3,442.5 1562.3,443.4 1559.3,444.2 1556.3,445.0 1553.3,445.9 1550.3,446.7 1547.3,447.6 1544.3,448.4 1541.3,449.3 1538.3,450.1 1535.3,451.0 1532.3,451.8 1529.3,452.7 1526.3,453.6 1523.3,454.4 1520.3,455.3 1517.3,456.1 1514.3,457.0 1511.3,457.9 1508.3,458.7 1505.3,459.6 1502.3,460.5 1499.3,461.4 1496.3,462.2 1493.3,463.1 1490.3,464.0 1487.3,464.9 1484.3,465.8 1481.3,466.7 1478.3,467.6 1475.3,468.5 1472.3,469.4 1469.3,470.3 1466.3,471.2 1463.3,472.1 1460.3,473.0 1457.3,473.9 1454.3,474.8 1451.3,475.7 1448.3,476.6 1445.3,477.5 1442.3,478.5 1439.3,479.4 1436.3,480.3 1433.3,481.3 1430.3,482.2 1427.3,483.1 1424.3,484.1 1421.3,485.0 1418.3,486.0 1415.3,486.9 1412.3,487.9 1409.3,488.8 1406.3,489.8 1403.3,490.8 1400.3,491.7 1397.3,492.7 1394.3,493.7 1391.3,494.7 1388.3,495.7 1385.3,496.6 1382.3,497.6 1379.3,498.6 1376.3,499.6 1373.3,500.6 1370.3,501.6 1367.3,502.6 1364.3,503.7 1361.3,504.7 1358.3,505.7 1355.3,506.7 1352.3,507.8 1349.3,508.8 1346.3,509.9 1343.3,510.9 1340.3,512.0 1337.3,513.0 1334.3,514.1 1331.3,515.1 1328.3,516.2 1325.3,517.3 1322.3,518.4 1319.3,519.5 1316.3,520.6 1313.3,521.7 1310.3,522.8 1307.3,523.9 1304.3,525.0 1301.3,526.1 1298.3,527.2 1295.3,528.4 1292.3,529.5 1289.3,530.7 1286.3,531.8 1283.3,533.0 1280.3,534.1 1277.3,535.3 1274.3,536.5 1271.3,537.6 1268.3,538.8 1265.3,540.0 1262.3,541.2 1259.3,542.4 1256.3,543.6 1253.3,544.9 1250.3,546.1 1247.3,547.3 1244.3,548.6 1241.3,549.8 1238.3,551.1 1235.3,552.3 1232.3,553.6 1229.3,554.9 1226.3,556.1 1223.3,557.4 1220.3,558.7 1217.3,560.0 1214.3,561.3 1211.3,562.7 1208.3,564.0 1205.3,565.3 1202.3,566.7 1199.3,568.0 1196.3,569.4 1193.3,570.7 1190.3,572.1 1187.3,573.5 1184.3,574.9 1181.3,576.3 1178.3,577.7 1175.3,579.1 1172.3,580.5 1169.3,581.9 1166.3,583.4 1163.3,584.8 1160.3,586.3 1157.3,587.7 1154.3,589.2 1151.3,590.7 1148.3,592.2 1145.3,593.7 1142.3,595.2 1139.3,596.7 1136.3,598.2 1133.3,599.8 1130.3,601.3 1127.3,602.9 1124.3,604.5 1121.3,606.1 1118.3,607.7 1115.3,609.3 1112.3,611.0 1109.3,612.6 1106.3,614.3 1103.3,616.1 1100.3,617.8 1097.3,619.6 1094.3,621.4 1091.3,623.2 1088.3,625.0 1085.3,626.9 1082.3,628.8 1079.3,630.7 1076.3,632.7 1073.3,634.7 1070.3,636.7 1067.3,638.8 1064.3,640.9 1061.3,643.0 1058.3,645.2 1055.3,647.4 1052.3,649.6 1049.3,651.9 1046.3,654.2 1043.3,656.5 1040.3,658.8 1037.3,661.2 1034.3,663.6 1031.3,666.1 1028.3,668.6 1025.3,671.1 1022.3,673.6 1019.3,676.1 1016.3,678.7 1013.3,681.3 1010.3,683.9 1007.3,686.6 1004.3,689.2 1001.3,691.9 998.3,694.7 995.3,697.4 992.3,700.3 989.3,703.1 986.3,706.0 983.3,708.9 980.3,711.9 977.3,715.0 974.3,718.1 971.3,721.2 968.3,724.4 965.3,727.7 962.3,731.0 959.3,734.4 956.3,737.8 953.3,741.3 950.3,744.8 947.3,748.4 944.3,752.0 941.3,755.7 938.3,759.4 935.3,763.2 932.3,767.0 929.3,770.9 926.3,774.9 923.3,778.8 920.3,782.9 917.3,786.9 914.3,791.0 911.3,795.2 908.3,799.4 905.3,803.6 902.3,807.8 899.3,812.1 896.3,816.4 893.3,820.8 890.3,825.1 887.3,829.5 884.3,833.9 881.3,838.4 878.3,842.8 875.3,847.3 872.3,851.8 869.3,856.3 866.3,860.8 863.3,865.4 860.3,869.9 857.3,874.5 854.3,879.1 851.3,883.7 848.3,888.3 845.3,892.9 842.3,897.6 839.3,902.2 836.3,906.8 833.3,911.5 830.3,916.2 827.3,920.9 824.3,925.6 821.3,930.3 818.3,935.0 815.3,939.7 812.3,944.5 809.3,949.2 806.3,954.0 803.3,958.8 800.3,963.6 797.3,968.4 794.3,973.2 791.3,978.1 788.3,983.0 785.3,987.8 782.3,992.7 779.3,997.6 776.3,1002.6 773.3,1007.5 770.3,1012.4 767.3,1017.4 764.3,1022.3 761.3,1027.3 758.3,1032.3 755.3,1037.2 752.3,1042.2 749.3,1047.1 746.3,1052.1 743.3,1057.0 740.3,1061.8 737.3,1066.7 734.3,1071.5 731.3,1076.2 728.3,1080.9 725.3,1085.5 722.3,1090.1 719.3,1094.6 716.3,1099.0 713.3,1103.3 710.3,1107.5 707.3,1111.7 704.3,1115.7 701.3,1119.6 698.3,1123.5 695.3,1127.2 692.3,1130.9 689.3,1134.4 686.3,1137.9 683.3,1141.3 680.3,1144.5 677.3,1147.8 674.3,1150.9 671.3,1153.9 668.3,1156.9 665.3,1159.8 662.3,1162.6 659.3,1165.3 656.3,1167.9 653.3,1170.5 650.3,1173.0 647.3,1175.5 644.3,1177.8 641.3,1180.1 638.3,1182.4 635.3,1184.5 632.3,1186.6 629.3,1188.7 626.3,1190.7 623.3,1192.6 620.3,1194.5 617.3,1196.3 614.3,1198.1 611.3,1199.8 608.3,1201.4 605.3,1203.0 602.3,1204.6 599.3,1206.1 596.3,1207.6 593.3,1209.0 590.3,1210.4 587.3,1211.7 584.3,1213.0 581.3,1214.3 578.3,1215.5 575.3,1216.7 572.3,1217.9 569.3,1219.0 566.3,1220.1 563.3,1221.2 560.3,1222.3 557.3,1223.3 554.3,1224.3 551.3,1225.3 548.3,1226.2 545.3,1227.1 542.3,1228.1 539.3,1229.0 536.3,1229.9 533.3,1230.7 530.3,1231.6 527.3,1232.4 524.3,1233.3 521.3,1234.1 518.3,1234.9 515.3,1235.7 512.3,1236.6 509.3,1237.4 506.3,1238.2 503.3,1238.9 500.3,1239.7 497.3,1240.5 494.3,1241.2 491.3,1241.9 488.3,1242.7 485.3,1243.5 482.3,1244.3 479.3,1245.2 476.3,1246.1 473.3,1247.0 470.3,1247.9 467.3,1248.8 464.3,1249.7 461.3,1250.5 458.3,1251.4 455.3,1252.3 452.3,1253.3 449.3,1254.2 446.3,1255.0 443.3,1255.8 440.3,1256.4 437.3,1257.0 434.3,1257.6 431.3,1258.1 428.3,1258.6 425.3,1259.2 422.3,1259.8 419.3,1260.3 416.3,1260.9 413.3,1261.5 410.3,1262.0 407.3,1262.6 404.3,1263.1 401.3,1263.7 398.3,1264.2 395.3,1264.8 392.3,1265.3 389.3,1265.9 386.3,1266.4 383.3,1267.0 380.3,1267.5 377.3,1268.1 374.3,1268.6 371.3,1269.2 368.3,1269.7 365.3,1270.3 362.3,1270.8 359.3,1271.4 356.3,1271.9 353.3,1272.5 350.3,1273.1 347.3,1273.6 344.3,1274.2 341.3,1274.8 338.3,1275.5 335.3,1276.1 332.3,1276.7 329.3,1277.3 326.3,1278.0 323.3,1278.6 320.3,1279.2 317.3,1279.8 314.3,1280.5 311.3,1281.1 308.3,1281.8 307.5,1281.9 306.7,1282.1 305.9,1282.3 305.1,1282.5 304.2,1282.6 303.4,1282.8 302.6,1283.0 301.8,1283.2 301.0,1283.4 300.1,1283.6 299.3,1283.8 298.5,1284.0 297.7,1284.2 296.8,1284.4 296.0,1284.6 295.2,1284.8 294.3,1285.0 293.5,1285.2 292.7,1285.4 291.9,1285.6 291.1,1285.8 290.4,1286.0 289.6,1286.1 288.9,1286.3 288.1,1286.5 287.4,1286.7 286.6,1286.9 285.9,1287.1 285.1,1287.3 284.2,1287.6 283.4,1287.8 282.5,1288.1 281.5,1288.4 280.4,1288.8 279.3,1289.1 278.2,1289.5 277.0,1290.0 275.8,1290.4 274.5,1290.9 273.3,1291.3 272.0,1291.8 270.7,1292.3 269.4,1292.8 268.2,1293.2 266.9,1293.7 265.7,1294.2 264.5,1294.6 263.4,1295.0 262.3,1295.4 261.2,1295.8 260.3,1296.2 259.3,1296.5 258.5,1296.8 257.7,1297.1 256.9,1297.4 256.2,1297.7 255.4,1298.0 254.8,1298.3 254.1,1298.6 253.4,1298.9 252.7,1299.2 252.1,1299.6 251.4,1299.9 250.7,1300.3 250.1,1300.8 249.5,1301.2 248.8,1301.7 248.2,1302.1 247.6,1302.6 247.1,1303.2 246.6,1303.7 246.1,1304.3 245.7,1304.9 245.2,1305.5 244.9,1306.2 244.5,1306.8 244.2,1307.5 243.9,1308.3 243.6,1309.0 243.4,1309.8 243.1,1310.6 242.9,1311.4 242.7,1312.3 242.5,1313.2 242.4,1314.1 242.2,1315.0 242.1,1315.9 241.9,1316.9 241.8,1317.8 241.7,1318.8 241.6,1319.8 241.5,1320.7 241.4,1321.7 241.3,1322.7 241.2,1323.6 241.1,1324.6 241.0,1325.6 240.9,1326.5 240.8,1327.5 240.7,1328.4 240.6,1329.4 240.6,1330.3 240.5,1331.2 240.4,1332.2 240.4,1333.1 240.3,1334.1 240.2,1335.0 240.2,1336.0 240.1,1337.0 240.1,1337.9 240.1,1338.9 240.0,1339.9 240.0,1340.8 240.0,1341.8 239.9,1342.8 239.9,1343.8 239.9,1344.8 239.9,1345.8 239.9,1346.8 L233.3,1346.8 Z"/>
</g>
<rect x="905" y="915.5" width="666" height="353" fill="#fff" stroke="none"/>
<g stroke="#000" fill="none" stroke-linecap="square">
<line x1="904.3" y1="915.5" x2="904.3" y2="1268.5" stroke-width="2.3"/>
<line x1="1571" y1="915.5" x2="1571" y2="1268.5" stroke-width="2.3"/>
<line x1="904.3" y1="915.5" x2="1571" y2="915.5" stroke-width="2.9"/>
<line x1="904.3" y1="1268.5" x2="1571" y2="1268.5" stroke-width="2.9"/>
</g>
<g fill="none" stroke-width="10" stroke-linecap="round">
<line x1="917.6" y1="965.5" x2="1029.2" y2="965.5" stroke="#000000"/>
<line x1="917.6" y1="1052.5" x2="1029.2" y2="1052.5" stroke="#ff0000"/>
<line x1="917.6" y1="1140.7" x2="1029.2" y2="1140.7" stroke="#0000ff"/>
<line x1="917.6" y1="1229.2" x2="1029.2" y2="1229.2" stroke="#008080"/>
</g>
<text class="s" font-size="72.5" transform="translate(1045.2,984.4) scale(0.8120,1)">0% Polycarboxylate</text>
<text class="s" font-size="72.5" transform="translate(1045.7,1072.6) scale(0.8145,1)">0.1% Polycarboxylate</text>
<text class="s" font-size="72.5" transform="translate(1045.7,1160.8) scale(0.8145,1)">0.3% Polycarboxylate</text>
<text class="s" font-size="72.5" transform="translate(1045.7,1249.0) scale(0.8145,1)">0.5% Polycarboxylate</text>
<text class="a" font-size="51" text-anchor="end" transform="translate(212.3,1355.3) scale(0.810,1)">0</text>
<text class="a" font-size="51" text-anchor="end" transform="translate(212.3,1139.9) scale(0.810,1)">50</text>
<text class="a" font-size="51" text-anchor="end" transform="translate(212.3,924.4) scale(0.810,1)">100</text>
<text class="a" font-size="51" text-anchor="end" transform="translate(212.3,709.0) scale(0.810,1)">150</text>
<text class="a" font-size="51" text-anchor="end" transform="translate(212.3,493.6) scale(0.810,1)">200</text>
<text class="a" font-size="51" text-anchor="end" transform="translate(212.3,278.1) scale(0.810,1)">250</text>
<text class="a" font-size="51" text-anchor="end" transform="translate(212.3,62.7) scale(0.810,1)">300</text>
<text class="a" font-size="51" text-anchor="middle" transform="translate(234.3,1407) scale(0.810,1)">0</text>
<text class="a" font-size="51" text-anchor="middle" transform="translate(523.5,1407) scale(0.810,1)">15</text>
<text class="a" font-size="51" text-anchor="middle" transform="translate(812.7,1407) scale(0.810,1)">30</text>
<text class="a" font-size="51" text-anchor="middle" transform="translate(1101.9,1407) scale(0.810,1)">45</text>
<text class="a" font-size="51" text-anchor="middle" transform="translate(1391.1,1407) scale(0.810,1)">60</text>
<text class="a" font-size="51" text-anchor="middle" transform="translate(1680.3,1407) scale(0.810,1)">75</text>
<text class="s" font-size="67.2" text-anchor="middle" transform="translate(957,1509.6) scale(0.806,1)">Time/ h</text>
<text class="s" font-size="68.2" text-anchor="middle" transform="translate(62.2,700) rotate(-90) scale(1,0.842)">Heat/ (KJ/Kg)</text>
</svg></body></html>
